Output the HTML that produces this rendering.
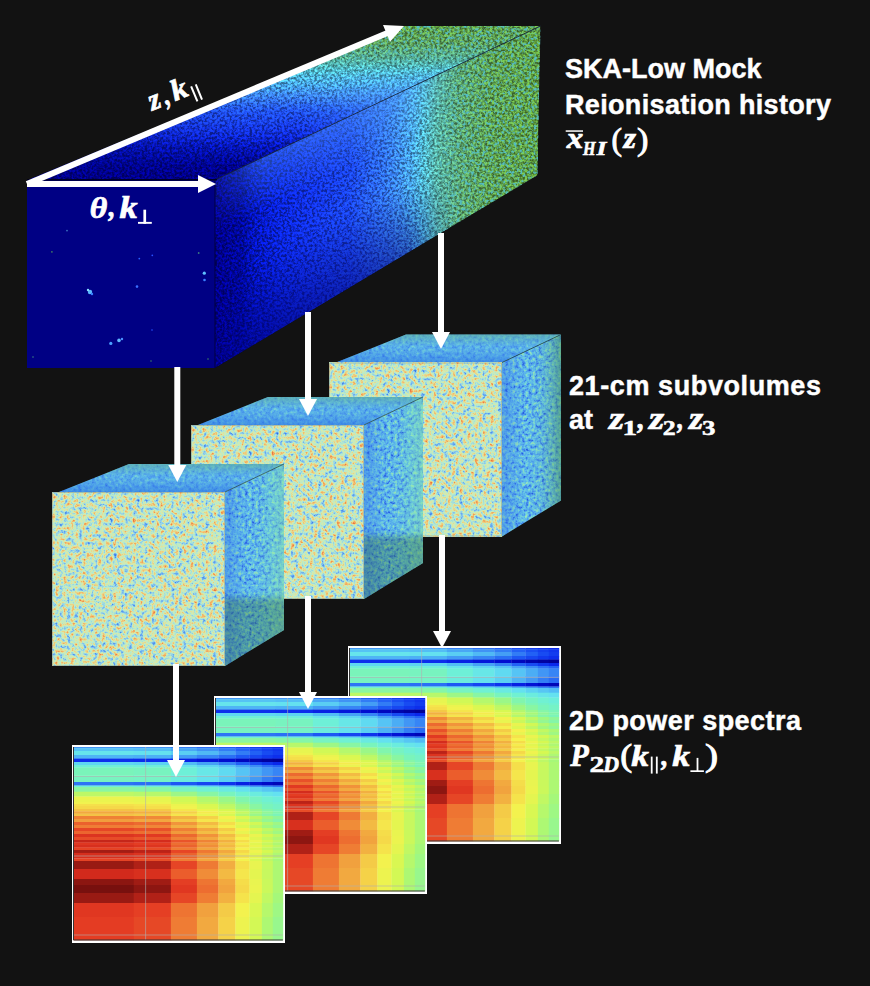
<!DOCTYPE html>
<html><head><meta charset="utf-8"><title>SKA-Low mock</title>
<style>
html,body{margin:0;padding:0;background:#121212;}
body{width:870px;height:986px;overflow:hidden;position:relative;font-family:"Liberation Sans",sans-serif;}
svg{position:absolute;left:0;top:0;}
.lbl{position:absolute;color:#fff;font-family:"Liberation Sans",sans-serif;font-weight:bold;font-size:24px;line-height:36px;white-space:nowrap;}
.m{font-family:"Liberation Serif",serif;font-weight:bold;font-style:italic;}
.mt{font-family:"Liberation Serif",serif;font-weight:bold;font-style:italic;fill:#fff;stroke:#fff;stroke-width:0.7px;}
.mtb{font-family:"Liberation Serif",serif;font-weight:bold;fill:#fff;stroke:#fff;stroke-width:0.5px;}
.mtr{font-family:"Liberation Serif",serif;fill:#fff;stroke:#fff;stroke-width:0.9px;}
.st{font-family:"Liberation Sans",sans-serif;font-weight:bold;fill:#fff;stroke:#fff;stroke-width:0.45px;}
</style></head><body>
<svg width="870" height="986" viewBox="0 0 870 986">
<defs>
<linearGradient id="boxR" gradientUnits="userSpaceOnUse" x1="215" y1="0" x2="538" y2="0">
 <stop offset="0" stop-color="#00008a"/>
 <stop offset="0.08" stop-color="#00089a"/>
 <stop offset="0.12" stop-color="#0414b8"/>
 <stop offset="0.2" stop-color="#0a24d8"/>
 <stop offset="0.3" stop-color="#1232e4"/>
 <stop offset="0.42" stop-color="#1a44ec"/>
 <stop offset="0.52" stop-color="#2e6cf0"/>
 <stop offset="0.57" stop-color="#3c88ee"/>
 <stop offset="0.61" stop-color="#48a4e8"/>
 <stop offset="0.645" stop-color="#50b4d0"/>
 <stop offset="0.69" stop-color="#58ae9c"/>
 <stop offset="0.76" stop-color="#5aa064"/>
 <stop offset="0.85" stop-color="#5c9a44"/>
 <stop offset="1" stop-color="#5e9a3a"/>
</linearGradient>
<linearGradient id="boxRv" gradientUnits="userSpaceOnUse" x1="300" y1="140" x2="369" y2="285">
 <stop offset="0" stop-color="#60b0ff" stop-opacity="0.35"/>
 <stop offset="0.3" stop-color="#60b0ff" stop-opacity="0"/>
 <stop offset="0.55" stop-color="#000080" stop-opacity="0"/>
 <stop offset="1" stop-color="#000080" stop-opacity="0.6"/>
</linearGradient>
<linearGradient id="boxRm" gradientUnits="userSpaceOnUse" x1="215" y1="0" x2="538" y2="0">
 <stop offset="0" stop-color="#fff" stop-opacity="0.3"/>
 <stop offset="0.15" stop-color="#fff" stop-opacity="1"/>
 <stop offset="0.6" stop-color="#fff" stop-opacity="1"/>
 <stop offset="0.75" stop-color="#fff" stop-opacity="0"/>
</linearGradient>
<mask id="maskR" maskUnits="userSpaceOnUse" x="0" y="0" width="870" height="986"><rect x="0" y="0" width="870" height="986" fill="url(#boxRm)"/></mask>
<linearGradient id="boxTh" gradientUnits="userSpaceOnUse" x1="120" y1="0" x2="420" y2="0">
 <stop offset="0" stop-color="#000080" stop-opacity="0.2"/>
 <stop offset="0.4" stop-color="#000080" stop-opacity="0"/>
 <stop offset="0.6" stop-color="#60b8ff" stop-opacity="0"/>
 <stop offset="1" stop-color="#60b8ff" stop-opacity="0.4"/>
</linearGradient>
<linearGradient id="boxThm" gradientUnits="userSpaceOnUse" x1="0" y1="181" x2="0" y2="26">
 <stop offset="0" stop-color="#fff" stop-opacity="0.2"/>
 <stop offset="0.15" stop-color="#fff" stop-opacity="1"/>
 <stop offset="0.55" stop-color="#fff" stop-opacity="1"/>
 <stop offset="0.75" stop-color="#fff" stop-opacity="0"/>
</linearGradient>
<mask id="maskT" maskUnits="userSpaceOnUse" x="0" y="0" width="870" height="986"><rect x="0" y="0" width="870" height="986" fill="url(#boxThm)"/></mask>
<linearGradient id="boxT" gradientUnits="userSpaceOnUse" x1="0" y1="181" x2="0" y2="26">
 <stop offset="0" stop-color="#000084"/>
 <stop offset="0.1" stop-color="#00048e"/>
 <stop offset="0.22" stop-color="#0616b4"/>
 <stop offset="0.33" stop-color="#1434e0"/>
 <stop offset="0.45" stop-color="#2050f0"/>
 <stop offset="0.55" stop-color="#3a80f0"/>
 <stop offset="0.63" stop-color="#48a8e8"/>
 <stop offset="0.72" stop-color="#50b8c8"/>
 <stop offset="0.8" stop-color="#56a684"/>
 <stop offset="0.88" stop-color="#5a9a54"/>
 <stop offset="1" stop-color="#5e9a3c"/>
</linearGradient>
<linearGradient id="ctop" x1="0" y1="1" x2="0" y2="0">
 <stop offset="0" stop-color="#2a70e0" stop-opacity="0.55"/>
 <stop offset="0.25" stop-color="#2a70e0" stop-opacity="0.2"/>
 <stop offset="0.55" stop-color="#60b0b0" stop-opacity="0"/>
 <stop offset="1" stop-color="#60b090" stop-opacity="0.55"/>
</linearGradient>

<linearGradient id="cright0" x1="0" y1="0" x2="1" y2="0">
 <stop offset="0" stop-color="#3a7ae6" stop-opacity="0.45"/>
 <stop offset="0.4" stop-color="#3a7ae6" stop-opacity="0.0"/>
 <stop offset="0.7" stop-color="#7ee0b8" stop-opacity="0.2"/>
 <stop offset="1" stop-color="#84dcb0" stop-opacity="0.55"/>
</linearGradient>
<linearGradient id="cright1" x1="0" y1="0" x2="1" y2="0">
 <stop offset="0" stop-color="#3a7ae6" stop-opacity="0.45"/>
 <stop offset="0.4" stop-color="#3a7ae6" stop-opacity="0.0"/>
 <stop offset="0.7" stop-color="#7ee0b8" stop-opacity="0.2"/>
 <stop offset="1" stop-color="#84dcb0" stop-opacity="0.55"/>
</linearGradient>
<linearGradient id="cright2" x1="0" y1="0" x2="1" y2="0">
 <stop offset="0" stop-color="#3a7ae6" stop-opacity="0.45"/>
 <stop offset="0.4" stop-color="#3a7ae6" stop-opacity="0.0"/>
 <stop offset="0.7" stop-color="#58a080" stop-opacity="0.15"/>
 <stop offset="1" stop-color="#4a9060" stop-opacity="0.6"/>
</linearGradient>
<filter id="cubeNoise" x="0" y="0" width="100%" height="100%" color-interpolation-filters="sRGB">
 <feTurbulence type="fractalNoise" baseFrequency="0.26" numOctaves="3" seed="3" result="n"/>
 <feColorMatrix in="n" type="matrix" values="1.1 0 0 0 0.0  1.1 0 0 0 0.0  1.1 0 0 0 0.0  0 0 0 0 1" result="g"/>
 <feComponentTransfer in="g">
  <feFuncR type="table" tableValues="0.157 0.235 0.392 0.569 0.714 0.843 0.941 0.949 0.910"/>
  <feFuncG type="table" tableValues="0.373 0.490 0.647 0.816 0.918 0.918 0.804 0.627 0.431"/>
  <feFuncB type="table" tableValues="0.882 0.918 0.941 0.922 0.804 0.675 0.490 0.345 0.235"/>
 </feComponentTransfer>
</filter>
<filter id="texMul" x="0" y="0" width="100%" height="100%" color-interpolation-filters="sRGB">
 <feTurbulence type="fractalNoise" baseFrequency="0.4" numOctaves="3" seed="5" result="n"/>
 <feColorMatrix in="n" type="matrix" values="2.6 0 0 0 -0.8  2.6 0 0 0 -0.8  2.6 0 0 0 -0.8  0 0 0 0 1" result="g"/>
 <feComposite in="SourceGraphic" in2="g" operator="arithmetic" k1="0.7" k2="0.65" k3="0" k4="0" result="m"/>
 <feComposite in="m" in2="SourceGraphic" operator="in"/>
</filter>
<filter id="texMul2" x="0" y="0" width="100%" height="100%" color-interpolation-filters="sRGB">
 <feTurbulence type="fractalNoise" baseFrequency="0.4" numOctaves="3" seed="11" result="n"/>
 <feColorMatrix in="n" type="matrix" values="2.2 0 0 0 -0.6  2.2 0 0 0 -0.6  2.2 0 0 0 -0.6  0 0 0 0 1" result="g"/>
 <feComposite in="SourceGraphic" in2="g" operator="arithmetic" k1="0.4" k2="0.82" k3="0" k4="0" result="m"/>
 <feComposite in="m" in2="SourceGraphic" operator="in"/>
</filter>
<filter id="speck" x="-5%" y="-5%" width="110%" height="110%"><feGaussianBlur stdDeviation="0.5"/></filter>
<filter id="cyanSpots" x="0" y="0" width="100%" height="100%" color-interpolation-filters="sRGB">
 <feTurbulence type="fractalNoise" baseFrequency="0.35" numOctaves="2" seed="21" result="n"/>
 <feColorMatrix in="n" type="matrix" values="0 0 0 0 0.33  0 0 0 0 0.74  0 0 0 0 0.76  4 0 0 0 -1.9" result="c"/>
 <feComposite in="c" in2="SourceGraphic" operator="in"/>
</filter>
<linearGradient id="greenMaskR" gradientUnits="userSpaceOnUse" x1="215" y1="0" x2="538" y2="0">
 <stop offset="0.62" stop-color="#fff" stop-opacity="0"/>
 <stop offset="0.72" stop-color="#fff" stop-opacity="1"/>
 <stop offset="1" stop-color="#fff" stop-opacity="1"/>
</linearGradient>
<mask id="gmR" maskUnits="userSpaceOnUse" x="0" y="0" width="870" height="986"><rect x="0" y="0" width="870" height="986" fill="url(#greenMaskR)"/></mask>
<linearGradient id="greenMaskT" gradientUnits="userSpaceOnUse" x1="0" y1="181" x2="0" y2="26">
 <stop offset="0.66" stop-color="#fff" stop-opacity="0"/>
 <stop offset="0.78" stop-color="#fff" stop-opacity="1"/>
 <stop offset="1" stop-color="#fff" stop-opacity="1"/>
</linearGradient>
<mask id="gmT" maskUnits="userSpaceOnUse" x="0" y="0" width="870" height="986"><rect x="0" y="0" width="870" height="986" fill="url(#greenMaskT)"/></mask>
<filter id="sideNoise" x="0" y="0" width="100%" height="100%" color-interpolation-filters="sRGB">
 <feTurbulence type="fractalNoise" baseFrequency="0.3" numOctaves="3" seed="17" result="n"/>
 <feColorMatrix in="n" type="matrix" values="1.5 0 0 0 -0.2  1.5 0 0 0 -0.2  1.5 0 0 0 -0.2  0 0 0 0 1" result="g"/>
 <feComponentTransfer in="g" result="c">
  <feFuncR type="table" tableValues="0.118 0.176 0.255 0.314 0.353 0.392 0.451 0.529 0.627"/>
  <feFuncG type="table" tableValues="0.314 0.412 0.529 0.627 0.698 0.765 0.824 0.871 0.902"/>
  <feFuncB type="table" tableValues="0.863 0.894 0.922 0.933 0.925 0.910 0.871 0.784 0.706"/>
 </feComponentTransfer>
 <feComposite in="c" in2="SourceGraphic" operator="in"/>
</filter>
<filter id="topNoise" x="0" y="0" width="100%" height="100%" color-interpolation-filters="sRGB">
 <feTurbulence type="fractalNoise" baseFrequency="0.3" numOctaves="3" seed="29" result="n"/>
 <feColorMatrix in="n" type="matrix" values="1.1 0 0 0 -0.05  1.1 0 0 0 -0.05  1.1 0 0 0 -0.05  0 0 0 0 1" result="g"/>
 <feComponentTransfer in="g" result="c">
  <feFuncR type="table" tableValues="0.157 0.216 0.275 0.314 0.345 0.376 0.431 0.510 0.588"/>
  <feFuncG type="table" tableValues="0.392 0.490 0.569 0.635 0.686 0.737 0.792 0.843 0.882"/>
  <feFuncB type="table" tableValues="0.882 0.910 0.925 0.933 0.925 0.910 0.878 0.804 0.725"/>
 </feComponentTransfer>
 <feComposite in="c" in2="SourceGraphic" operator="in"/>
</filter>
<filter id="soft" x="-20%" y="-20%" width="140%" height="140%"><feGaussianBlur stdDeviation="3"/></filter>
<filter id="noiseDark" x="0" y="0" width="100%" height="100%" color-interpolation-filters="sRGB">
 <feTurbulence type="fractalNoise" baseFrequency="0.3" numOctaves="2" seed="7" result="n"/>
 <feColorMatrix in="n" type="matrix" values="0 0 0 0 0  0 0 0 0 0  0 0 0 0 0  1.6 0 0 0 -0.55" result="a"/>
 <feComposite in="a" in2="SourceGraphic" operator="in"/>
</filter>
</defs>

<polygon points="215,180 540.5,26 537.5,175.3 215,368" fill="url(#boxR)" filter="url(#texMul)"/>
<polygon points="215,180 540.5,26 537.5,175.3 215,368" fill="url(#boxRv)" mask="url(#maskR)"/>
<polygon points="27,180 215,180 540.5,26 402,26" fill="url(#boxT)" filter="url(#texMul)"/>
<polygon points="27,180 215,180 540.5,26 402,26" fill="url(#boxTh)" mask="url(#maskT)"/>
<g mask="url(#gmR)"><polygon points="215,180 540.5,26 537.5,175.3 215,368" fill="#fff" filter="url(#cyanSpots)"/></g>
<g mask="url(#gmT)"><polygon points="27,180 215,180 540.5,26 402,26" fill="#fff" filter="url(#cyanSpots)"/></g>
<rect x="27" y="180" width="188" height="188" fill="#000084"/>
<g filter="url(#speck)"><circle cx="90" cy="292" r="2.2" fill="#5ab8ff"/><circle cx="88" cy="290" r="1.2" fill="#8ae0ff"/><circle cx="92" cy="294" r="1.2" fill="#3a80ff"/><circle cx="137" cy="286.6" r="1.3" fill="#3a70ff"/><circle cx="204.3" cy="273.2" r="1.6" fill="#60c0ff"/><circle cx="204.5" cy="280" r="1.3" fill="#3a80ff"/><circle cx="119" cy="340.4" r="1.8" fill="#60b8ff"/><circle cx="122" cy="339" r="1.2" fill="#4a90ff"/><circle cx="110.8" cy="343.4" r="1.6" fill="#4aa0ff"/><circle cx="67" cy="230.6" r="0.9" fill="#3a70c0"/><circle cx="198.7" cy="253" r="0.9" fill="#3a7a80"/><circle cx="152.3" cy="255.3" r="0.9" fill="#2a50ff"/><circle cx="51.9" cy="251.9" r="0.8" fill="#4a8a60"/><circle cx="139.3" cy="258.6" r="0.9" fill="#2a60ff"/><circle cx="152" cy="330" r="0.8" fill="#2a50ff"/><circle cx="33" cy="357" r="0.8" fill="#3a8080"/><circle cx="151" cy="361" r="0.8" fill="#3a8060"/><circle cx="208" cy="359" r="0.8" fill="#3a8060"/></g>
<line x1="215" y1="180" x2="540.5" y2="26" stroke="#1a2a40" stroke-width="1" opacity="0.8"/>
<rect x="27" y="179" width="190" height="1.6" fill="#000018" opacity="0.85"/>
<line x1="215" y1="180" x2="215" y2="368" stroke="#000040" stroke-width="1"/>
<g transform="translate(329,362.5)">
<polygon points="7,0 173,0 232,-28 77,-28" fill="#fff" filter="url(#topNoise)"/>
<polygon points="7,0 173,0 232,-28 77,-28" fill="url(#ctop)"/>
<polygon points="173,0 232,-28 232,138 173,174" fill="#fff" filter="url(#sideNoise)"/>
<polygon points="173,0 232,-28 232,138 173,174" fill="url(#cright2)"/>
<rect x="0" y="0" width="173" height="174" fill="#b8d4ac"/>
<rect x="0" y="0" width="173" height="174" filter="url(#cubeNoise)"/>
<rect x="0.5" y="0.5" width="172" height="173" fill="none" stroke="#8a9890" stroke-width="1" opacity="0.5"/>
<line x1="173" y1="0" x2="232" y2="-28" stroke="#204040" stroke-width="1" opacity="0.7"/>
</g>
<g transform="translate(191,425)">
<polygon points="7,0 173,0 232,-28 77,-28" fill="#fff" filter="url(#topNoise)"/>
<polygon points="7,0 173,0 232,-28 77,-28" fill="url(#ctop)"/>
<polygon points="173,0 232,-28 232,138 173,174" fill="#fff" filter="url(#sideNoise)"/>
<polygon points="173,0 232,-28 232,138 173,174" fill="url(#cright1)"/>
<clipPath id="rc1"><polygon points="173,0 232,-28 232,138 173,174"/></clipPath>
<g clip-path="url(#rc1)"><rect x="170" y="111" width="66" height="67" fill="#2a5a20" opacity="0.32" filter="url(#soft)"/></g>
<rect x="0" y="0" width="173" height="174" fill="#b8d4ac"/>
<rect x="0" y="0" width="173" height="174" filter="url(#cubeNoise)"/>
<rect x="0.5" y="0.5" width="172" height="173" fill="none" stroke="#8a9890" stroke-width="1" opacity="0.5"/>
<line x1="173" y1="0" x2="232" y2="-28" stroke="#204040" stroke-width="1" opacity="0.7"/>
</g>
<g transform="translate(52,492)">
<polygon points="7,0 173,0 232,-28 77,-28" fill="#fff" filter="url(#topNoise)"/>
<polygon points="7,0 173,0 232,-28 77,-28" fill="url(#ctop)"/>
<polygon points="173,0 232,-28 232,138 173,174" fill="#fff" filter="url(#sideNoise)"/>
<polygon points="173,0 232,-28 232,138 173,174" fill="url(#cright0)"/>
<clipPath id="rc0"><polygon points="173,0 232,-28 232,138 173,174"/></clipPath>
<g clip-path="url(#rc0)"><rect x="170" y="106" width="66" height="72" fill="#2a5a20" opacity="0.32" filter="url(#soft)"/></g>
<rect x="0" y="0" width="173" height="174" fill="#b8d4ac"/>
<rect x="0" y="0" width="173" height="174" filter="url(#cubeNoise)"/>
<rect x="0.5" y="0.5" width="172" height="173" fill="none" stroke="#8a9890" stroke-width="1" opacity="0.5"/>
<line x1="173" y1="0" x2="232" y2="-28" stroke="#204040" stroke-width="1" opacity="0.7"/>
</g>
<rect x="348" y="646" width="213" height="198" fill="#fff"/>
<g transform="translate(349.5,648)">
<rect x="0.0" y="0.0" width="60.5" height="1.5" fill="#4196f5"/>
<rect x="60.2" y="0.0" width="37.5" height="1.5" fill="#3f92f5"/>
<rect x="97.4" y="0.0" width="26.3" height="1.5" fill="#337ef5"/>
<rect x="123.4" y="0.0" width="21.8" height="1.5" fill="#286cf5"/>
<rect x="144.9" y="0.0" width="17.3" height="1.5" fill="#1e5af5"/>
<rect x="161.9" y="0.0" width="14.4" height="1.5" fill="#1749f2"/>
<rect x="176.0" y="0.0" width="12.7" height="1.5" fill="#123cef"/>
<rect x="188.4" y="0.0" width="11.2" height="1.5" fill="#0d30ed"/>
<rect x="199.3" y="0.0" width="10.4" height="1.5" fill="#0a28eb"/>
<rect x="0.0" y="1.2" width="60.5" height="3.1" fill="#55c3f5"/>
<rect x="60.2" y="1.2" width="37.5" height="3.1" fill="#53bef5"/>
<rect x="97.4" y="1.2" width="26.3" height="3.1" fill="#49a8f5"/>
<rect x="123.4" y="1.2" width="21.8" height="3.1" fill="#4093f5"/>
<rect x="144.9" y="1.2" width="17.3" height="3.1" fill="#327cf5"/>
<rect x="161.9" y="1.2" width="14.4" height="3.1" fill="#2362f5"/>
<rect x="176.0" y="1.2" width="12.7" height="3.1" fill="#1a50f3"/>
<rect x="188.4" y="1.2" width="11.2" height="3.1" fill="#1441f0"/>
<rect x="199.3" y="1.2" width="10.4" height="3.1" fill="#1036ee"/>
<rect x="0.0" y="4.0" width="60.5" height="4.3" fill="#66e4ec"/>
<rect x="60.2" y="4.0" width="37.5" height="4.3" fill="#64e1ef"/>
<rect x="97.4" y="4.0" width="26.3" height="4.3" fill="#5acef3"/>
<rect x="123.4" y="4.0" width="21.8" height="4.3" fill="#50b9f5"/>
<rect x="144.9" y="4.0" width="17.3" height="4.3" fill="#449ef5"/>
<rect x="161.9" y="4.0" width="14.4" height="4.3" fill="#327cf5"/>
<rect x="176.0" y="4.0" width="12.7" height="4.3" fill="#2261f5"/>
<rect x="188.4" y="4.0" width="11.2" height="4.3" fill="#184bf2"/>
<rect x="199.3" y="4.0" width="10.4" height="4.3" fill="#133def"/>
<rect x="0.0" y="8.0" width="60.5" height="3.9" fill="#4eb4f5"/>
<rect x="60.2" y="8.0" width="37.5" height="3.9" fill="#4cb0f5"/>
<rect x="97.4" y="8.0" width="26.3" height="3.9" fill="#439bf5"/>
<rect x="123.4" y="8.0" width="21.8" height="3.9" fill="#3785f5"/>
<rect x="144.9" y="8.0" width="17.3" height="3.9" fill="#2a6ff5"/>
<rect x="161.9" y="8.0" width="14.4" height="3.9" fill="#1d57f4"/>
<rect x="176.0" y="8.0" width="12.7" height="3.9" fill="#1747f1"/>
<rect x="188.4" y="8.0" width="11.2" height="3.9" fill="#1139ee"/>
<rect x="199.3" y="8.0" width="10.4" height="3.9" fill="#0d2fec"/>
<rect x="0.0" y="11.6" width="60.5" height="3.7" fill="#0d2fec"/>
<rect x="60.2" y="11.6" width="37.5" height="3.7" fill="#0c2cec"/>
<rect x="97.4" y="11.6" width="26.3" height="3.7" fill="#0821e4"/>
<rect x="123.4" y="11.6" width="21.8" height="3.7" fill="#0417da"/>
<rect x="144.9" y="11.6" width="17.3" height="3.7" fill="#010dd0"/>
<rect x="161.9" y="11.6" width="14.4" height="3.7" fill="#0007be"/>
<rect x="176.0" y="11.6" width="12.7" height="3.7" fill="#0004ae"/>
<rect x="188.4" y="11.6" width="11.2" height="3.7" fill="#0002a0"/>
<rect x="199.3" y="11.6" width="10.4" height="3.7" fill="#000096"/>
<rect x="0.0" y="15.0" width="60.5" height="3.3" fill="#5fd7f2"/>
<rect x="60.2" y="15.0" width="37.5" height="3.3" fill="#5dd3f2"/>
<rect x="97.4" y="15.0" width="26.3" height="3.3" fill="#52bdf5"/>
<rect x="123.4" y="15.0" width="21.8" height="3.3" fill="#46a2f5"/>
<rect x="144.9" y="15.0" width="17.3" height="3.3" fill="#3785f5"/>
<rect x="161.9" y="15.0" width="14.4" height="3.3" fill="#2362f5"/>
<rect x="176.0" y="15.0" width="12.7" height="3.3" fill="#184af2"/>
<rect x="188.4" y="15.0" width="11.2" height="3.3" fill="#0f36ee"/>
<rect x="199.3" y="15.0" width="10.4" height="3.3" fill="#0a28eb"/>
<rect x="0.0" y="18.0" width="60.5" height="2.8" fill="#6ef0d7"/>
<rect x="60.2" y="18.0" width="37.5" height="2.8" fill="#6deeda"/>
<rect x="97.4" y="18.0" width="26.3" height="2.8" fill="#66e4eb"/>
<rect x="123.4" y="18.0" width="21.8" height="2.8" fill="#5ed5f2"/>
<rect x="144.9" y="18.0" width="17.3" height="2.8" fill="#55c3f5"/>
<rect x="161.9" y="18.0" width="14.4" height="2.8" fill="#47a4f5"/>
<rect x="176.0" y="18.0" width="12.7" height="2.8" fill="#3b8cf5"/>
<rect x="188.4" y="18.0" width="11.2" height="2.8" fill="#2d73f5"/>
<rect x="199.3" y="18.0" width="10.4" height="2.8" fill="#2363f5"/>
<rect x="0.0" y="20.5" width="60.5" height="8.3" fill="#7af4ba"/>
<rect x="60.2" y="20.5" width="37.5" height="8.3" fill="#78f3bf"/>
<rect x="97.4" y="20.5" width="26.3" height="8.3" fill="#6ef0d7"/>
<rect x="123.4" y="20.5" width="21.8" height="8.3" fill="#68e7e7"/>
<rect x="144.9" y="20.5" width="17.3" height="8.3" fill="#60daf1"/>
<rect x="161.9" y="20.5" width="14.4" height="8.3" fill="#56c4f5"/>
<rect x="176.0" y="20.5" width="12.7" height="8.3" fill="#4badf5"/>
<rect x="188.4" y="20.5" width="11.2" height="8.3" fill="#4196f5"/>
<rect x="199.3" y="20.5" width="10.4" height="8.3" fill="#3785f5"/>
<rect x="0.0" y="28.5" width="60.5" height="6.8" fill="#78f3c0"/>
<rect x="60.2" y="28.5" width="37.5" height="6.8" fill="#76f3c5"/>
<rect x="97.4" y="28.5" width="26.3" height="6.8" fill="#6cecdd"/>
<rect x="123.4" y="28.5" width="21.8" height="6.8" fill="#65e2ee"/>
<rect x="144.9" y="28.5" width="17.3" height="6.8" fill="#5bd0f3"/>
<rect x="161.9" y="28.5" width="14.4" height="6.8" fill="#4eb3f5"/>
<rect x="176.0" y="28.5" width="12.7" height="6.8" fill="#4299f5"/>
<rect x="188.4" y="28.5" width="11.2" height="6.8" fill="#337ef5"/>
<rect x="199.3" y="28.5" width="10.4" height="6.8" fill="#286bf5"/>
<rect x="0.0" y="35.0" width="60.5" height="3.8" fill="#2d74f5"/>
<rect x="60.2" y="35.0" width="37.5" height="3.8" fill="#2a6ff5"/>
<rect x="97.4" y="35.0" width="26.3" height="3.8" fill="#1d57f4"/>
<rect x="123.4" y="35.0" width="21.8" height="3.8" fill="#1645f1"/>
<rect x="144.9" y="35.0" width="17.3" height="3.8" fill="#0e33ed"/>
<rect x="161.9" y="35.0" width="14.4" height="3.8" fill="#0720e3"/>
<rect x="176.0" y="35.0" width="12.7" height="3.8" fill="#0312d5"/>
<rect x="188.4" y="35.0" width="11.2" height="3.8" fill="#0009c6"/>
<rect x="199.3" y="35.0" width="10.4" height="3.8" fill="#0006b7"/>
<rect x="0.0" y="38.5" width="60.5" height="1.8" fill="#6ef0d7"/>
<rect x="60.2" y="38.5" width="37.5" height="1.8" fill="#6deeda"/>
<rect x="97.4" y="38.5" width="26.3" height="1.8" fill="#67e5e9"/>
<rect x="123.4" y="38.5" width="21.8" height="1.8" fill="#60d8f1"/>
<rect x="144.9" y="38.5" width="17.3" height="1.8" fill="#58c8f4"/>
<rect x="161.9" y="38.5" width="14.4" height="1.8" fill="#4caef5"/>
<rect x="176.0" y="38.5" width="12.7" height="1.8" fill="#4299f5"/>
<rect x="188.4" y="38.5" width="11.2" height="1.8" fill="#3683f5"/>
<rect x="199.3" y="38.5" width="10.4" height="1.8" fill="#2d74f5"/>
<rect x="0.0" y="40.0" width="60.5" height="5.0" fill="#8af6a1"/>
<rect x="60.2" y="40.0" width="37.5" height="5.0" fill="#85f6a8"/>
<rect x="97.4" y="40.0" width="26.3" height="5.0" fill="#78f3c1"/>
<rect x="123.4" y="40.0" width="21.8" height="5.0" fill="#70f1d3"/>
<rect x="144.9" y="40.0" width="17.3" height="5.0" fill="#6aeae1"/>
<rect x="161.9" y="40.0" width="14.4" height="5.0" fill="#64e1f0"/>
<rect x="176.0" y="40.0" width="12.7" height="5.0" fill="#5dd3f2"/>
<rect x="188.4" y="40.0" width="11.2" height="5.0" fill="#57c6f4"/>
<rect x="199.3" y="40.0" width="10.4" height="5.0" fill="#52bcf5"/>
<rect x="0.0" y="44.7" width="60.5" height="5.1" fill="#bdf866"/>
<rect x="60.2" y="44.7" width="37.5" height="5.1" fill="#b7f86b"/>
<rect x="97.4" y="44.7" width="26.3" height="5.1" fill="#9df786"/>
<rect x="123.4" y="44.7" width="21.8" height="5.1" fill="#88f6a4"/>
<rect x="144.9" y="44.7" width="17.3" height="5.1" fill="#79f4bd"/>
<rect x="161.9" y="44.7" width="14.4" height="5.1" fill="#70f1d2"/>
<rect x="176.0" y="44.7" width="12.7" height="5.1" fill="#6becde"/>
<rect x="188.4" y="44.7" width="11.2" height="5.1" fill="#67e5e9"/>
<rect x="199.3" y="44.7" width="10.4" height="5.1" fill="#64e1f0"/>
<rect x="0.0" y="49.5" width="60.5" height="5.8" fill="#ebf44f"/>
<rect x="60.2" y="49.5" width="37.5" height="5.8" fill="#e7f550"/>
<rect x="97.4" y="49.5" width="26.3" height="5.8" fill="#d1f856"/>
<rect x="123.4" y="49.5" width="21.8" height="5.8" fill="#b5f86d"/>
<rect x="144.9" y="49.5" width="17.3" height="5.8" fill="#9bf788"/>
<rect x="161.9" y="49.5" width="14.4" height="5.8" fill="#81f5ae"/>
<rect x="176.0" y="49.5" width="12.7" height="5.8" fill="#77f3c2"/>
<rect x="188.4" y="49.5" width="11.2" height="5.8" fill="#70f1d2"/>
<rect x="199.3" y="49.5" width="10.4" height="5.8" fill="#6ceedb"/>
<rect x="0.0" y="55.0" width="60.5" height="2.3" fill="#f1f34f"/>
<rect x="60.2" y="55.0" width="37.5" height="2.3" fill="#edf44f"/>
<rect x="97.4" y="55.0" width="26.3" height="2.3" fill="#daf751"/>
<rect x="123.4" y="55.0" width="21.8" height="2.3" fill="#c1f863"/>
<rect x="144.9" y="55.0" width="17.3" height="2.3" fill="#a6f879"/>
<rect x="161.9" y="55.0" width="14.4" height="2.3" fill="#8df69d"/>
<rect x="176.0" y="55.0" width="12.7" height="2.3" fill="#7cf5b7"/>
<rect x="188.4" y="55.0" width="11.2" height="2.3" fill="#75f2c6"/>
<rect x="199.3" y="55.0" width="10.4" height="2.3" fill="#71f1d1"/>
<rect x="0.0" y="57.0" width="60.5" height="2.3" fill="#f5e04b"/>
<rect x="60.2" y="57.0" width="37.5" height="2.3" fill="#f5e54c"/>
<rect x="97.4" y="57.0" width="26.3" height="2.3" fill="#ebf44f"/>
<rect x="123.4" y="57.0" width="21.8" height="2.3" fill="#d8f852"/>
<rect x="144.9" y="57.0" width="17.3" height="2.3" fill="#bcf867"/>
<rect x="161.9" y="57.0" width="14.4" height="2.3" fill="#9df786"/>
<rect x="176.0" y="57.0" width="12.7" height="2.3" fill="#88f6a4"/>
<rect x="188.4" y="57.0" width="11.2" height="2.3" fill="#7af4bb"/>
<rect x="199.3" y="57.0" width="10.4" height="2.3" fill="#75f2c6"/>
<rect x="0.0" y="59.0" width="60.5" height="3.3" fill="#f5d849"/>
<rect x="60.2" y="59.0" width="37.5" height="3.3" fill="#f5de4a"/>
<rect x="97.4" y="59.0" width="26.3" height="3.3" fill="#f0f34f"/>
<rect x="123.4" y="59.0" width="21.8" height="3.3" fill="#dcf751"/>
<rect x="144.9" y="59.0" width="17.3" height="3.3" fill="#c2f863"/>
<rect x="161.9" y="59.0" width="14.4" height="3.3" fill="#a0f881"/>
<rect x="176.0" y="59.0" width="12.7" height="3.3" fill="#8af6a1"/>
<rect x="188.4" y="59.0" width="11.2" height="3.3" fill="#7af4ba"/>
<rect x="199.3" y="59.0" width="10.4" height="3.3" fill="#76f2c6"/>
<rect x="0.0" y="62.0" width="60.5" height="2.6" fill="#f4c345"/>
<rect x="60.2" y="62.0" width="37.5" height="2.6" fill="#f4c946"/>
<rect x="97.4" y="62.0" width="26.3" height="2.6" fill="#f5e54c"/>
<rect x="123.4" y="62.0" width="21.8" height="2.6" fill="#ebf44f"/>
<rect x="144.9" y="62.0" width="17.3" height="2.6" fill="#d7f852"/>
<rect x="161.9" y="62.0" width="14.4" height="2.6" fill="#b3f86f"/>
<rect x="176.0" y="62.0" width="12.7" height="2.6" fill="#9af78a"/>
<rect x="188.4" y="62.0" width="11.2" height="2.6" fill="#85f6a9"/>
<rect x="199.3" y="62.0" width="10.4" height="2.6" fill="#7bf4b9"/>
<rect x="0.0" y="64.3" width="60.5" height="2.6" fill="#f2a93f"/>
<rect x="60.2" y="64.3" width="37.5" height="2.6" fill="#f2b041"/>
<rect x="97.4" y="64.3" width="26.3" height="2.6" fill="#f5d048"/>
<rect x="123.4" y="64.3" width="21.8" height="2.6" fill="#f5eb4d"/>
<rect x="144.9" y="64.3" width="17.3" height="2.6" fill="#e5f550"/>
<rect x="161.9" y="64.3" width="14.4" height="2.6" fill="#c7f85f"/>
<rect x="176.0" y="64.3" width="12.7" height="2.6" fill="#a9f877"/>
<rect x="188.4" y="64.3" width="11.2" height="2.6" fill="#92f796"/>
<rect x="199.3" y="64.3" width="10.4" height="2.6" fill="#83f5ab"/>
<rect x="0.0" y="66.7" width="60.5" height="2.6" fill="#f4c345"/>
<rect x="60.2" y="66.7" width="37.5" height="2.6" fill="#f4c946"/>
<rect x="97.4" y="66.7" width="26.3" height="2.6" fill="#f5e54c"/>
<rect x="123.4" y="66.7" width="21.8" height="2.6" fill="#ebf44f"/>
<rect x="144.9" y="66.7" width="17.3" height="2.6" fill="#d7f852"/>
<rect x="161.9" y="66.7" width="14.4" height="2.6" fill="#b3f86f"/>
<rect x="176.0" y="66.7" width="12.7" height="2.6" fill="#9af78a"/>
<rect x="188.4" y="66.7" width="11.2" height="2.6" fill="#85f6a9"/>
<rect x="199.3" y="66.7" width="10.4" height="2.6" fill="#7bf4b9"/>
<rect x="0.0" y="69.0" width="60.5" height="3.3" fill="#ef8135"/>
<rect x="60.2" y="69.0" width="37.5" height="3.3" fill="#f08938"/>
<rect x="97.4" y="69.0" width="26.3" height="3.3" fill="#f2b242"/>
<rect x="123.4" y="69.0" width="21.8" height="3.3" fill="#f5d248"/>
<rect x="144.9" y="69.0" width="17.3" height="3.3" fill="#f5f04e"/>
<rect x="161.9" y="69.0" width="14.4" height="3.3" fill="#dcf751"/>
<rect x="176.0" y="69.0" width="12.7" height="3.3" fill="#bef865"/>
<rect x="188.4" y="69.0" width="11.2" height="3.3" fill="#a1f880"/>
<rect x="199.3" y="69.0" width="10.4" height="3.3" fill="#90f698"/>
<rect x="0.0" y="72.0" width="60.5" height="3.3" fill="#f19d3d"/>
<rect x="60.2" y="72.0" width="37.5" height="3.3" fill="#f2a63f"/>
<rect x="97.4" y="72.0" width="26.3" height="3.3" fill="#f4c846"/>
<rect x="123.4" y="72.0" width="21.8" height="3.3" fill="#f5e54c"/>
<rect x="144.9" y="72.0" width="17.3" height="3.3" fill="#e9f450"/>
<rect x="161.9" y="72.0" width="14.4" height="3.3" fill="#cbf85b"/>
<rect x="176.0" y="72.0" width="12.7" height="3.3" fill="#adf874"/>
<rect x="188.4" y="72.0" width="11.2" height="3.3" fill="#94f793"/>
<rect x="199.3" y="72.0" width="10.4" height="3.3" fill="#84f6a9"/>
<rect x="0.0" y="75.0" width="60.5" height="3.3" fill="#eb612d"/>
<rect x="60.2" y="75.0" width="37.5" height="3.3" fill="#ec6a30"/>
<rect x="97.4" y="75.0" width="26.3" height="3.3" fill="#f1953b"/>
<rect x="123.4" y="75.0" width="21.8" height="3.3" fill="#f3bb43"/>
<rect x="144.9" y="75.0" width="17.3" height="3.3" fill="#f5dd4a"/>
<rect x="161.9" y="75.0" width="14.4" height="3.3" fill="#e9f44f"/>
<rect x="176.0" y="75.0" width="12.7" height="3.3" fill="#d2f855"/>
<rect x="188.4" y="75.0" width="11.2" height="3.3" fill="#b2f870"/>
<rect x="199.3" y="75.0" width="10.4" height="3.3" fill="#9ef785"/>
<rect x="0.0" y="78.0" width="60.5" height="3.3" fill="#ef7d35"/>
<rect x="60.2" y="78.0" width="37.5" height="3.3" fill="#f08637"/>
<rect x="97.4" y="78.0" width="26.3" height="3.3" fill="#f2af41"/>
<rect x="123.4" y="78.0" width="21.8" height="3.3" fill="#f5d048"/>
<rect x="144.9" y="78.0" width="17.3" height="3.3" fill="#f5ee4d"/>
<rect x="161.9" y="78.0" width="14.4" height="3.3" fill="#ddf751"/>
<rect x="176.0" y="78.0" width="12.7" height="3.3" fill="#c0f864"/>
<rect x="188.4" y="78.0" width="11.2" height="3.3" fill="#a2f87e"/>
<rect x="199.3" y="78.0" width="10.4" height="3.3" fill="#92f796"/>
<rect x="0.0" y="81.0" width="60.5" height="3.3" fill="#e64626"/>
<rect x="60.2" y="81.0" width="37.5" height="3.3" fill="#e85129"/>
<rect x="97.4" y="81.0" width="26.3" height="3.3" fill="#ef7f35"/>
<rect x="123.4" y="81.0" width="21.8" height="3.3" fill="#f2a83f"/>
<rect x="144.9" y="81.0" width="17.3" height="3.3" fill="#f4cc47"/>
<rect x="161.9" y="81.0" width="14.4" height="3.3" fill="#f5f14e"/>
<rect x="176.0" y="81.0" width="12.7" height="3.3" fill="#dff651"/>
<rect x="188.4" y="81.0" width="11.2" height="3.3" fill="#c2f862"/>
<rect x="199.3" y="81.0" width="10.4" height="3.3" fill="#acf874"/>
<rect x="0.0" y="84.0" width="60.5" height="3.3" fill="#ec652f"/>
<rect x="60.2" y="84.0" width="37.5" height="3.3" fill="#ed6e31"/>
<rect x="97.4" y="84.0" width="26.3" height="3.3" fill="#f1993b"/>
<rect x="123.4" y="84.0" width="21.8" height="3.3" fill="#f3bd44"/>
<rect x="144.9" y="84.0" width="17.3" height="3.3" fill="#f5de4a"/>
<rect x="161.9" y="84.0" width="14.4" height="3.3" fill="#e9f450"/>
<rect x="176.0" y="84.0" width="12.7" height="3.3" fill="#d2f855"/>
<rect x="188.4" y="84.0" width="11.2" height="3.3" fill="#b3f86f"/>
<rect x="199.3" y="84.0" width="10.4" height="3.3" fill="#9ff883"/>
<rect x="0.0" y="87.0" width="60.5" height="3.3" fill="#dc3420"/>
<rect x="60.2" y="87.0" width="37.5" height="3.3" fill="#e13922"/>
<rect x="97.4" y="87.0" width="26.3" height="3.3" fill="#ec682f"/>
<rect x="123.4" y="87.0" width="21.8" height="3.3" fill="#f1923a"/>
<rect x="144.9" y="87.0" width="17.3" height="3.3" fill="#f3bb43"/>
<rect x="161.9" y="87.0" width="14.4" height="3.3" fill="#f5e34b"/>
<rect x="176.0" y="87.0" width="12.7" height="3.3" fill="#eaf44f"/>
<rect x="188.4" y="87.0" width="11.2" height="3.3" fill="#d3f854"/>
<rect x="199.3" y="87.0" width="10.4" height="3.3" fill="#bdf867"/>
<rect x="0.0" y="90.0" width="60.5" height="3.3" fill="#e74c28"/>
<rect x="60.2" y="90.0" width="37.5" height="3.3" fill="#e9562a"/>
<rect x="97.4" y="90.0" width="26.3" height="3.3" fill="#ef8236"/>
<rect x="123.4" y="90.0" width="21.8" height="3.3" fill="#f2aa40"/>
<rect x="144.9" y="90.0" width="17.3" height="3.3" fill="#f5cd47"/>
<rect x="161.9" y="90.0" width="14.4" height="3.3" fill="#f5f24e"/>
<rect x="176.0" y="90.0" width="12.7" height="3.3" fill="#dff651"/>
<rect x="188.4" y="90.0" width="11.2" height="3.3" fill="#c4f861"/>
<rect x="199.3" y="90.0" width="10.4" height="3.3" fill="#aef873"/>
<rect x="0.0" y="93.0" width="60.5" height="2.8" fill="#c5261a"/>
<rect x="60.2" y="93.0" width="37.5" height="2.8" fill="#d42c1d"/>
<rect x="97.4" y="93.0" width="26.3" height="2.8" fill="#e9542a"/>
<rect x="123.4" y="93.0" width="21.8" height="2.8" fill="#ef8336"/>
<rect x="144.9" y="93.0" width="17.3" height="2.8" fill="#f2b041"/>
<rect x="161.9" y="93.0" width="14.4" height="2.8" fill="#f5dc4a"/>
<rect x="176.0" y="93.0" width="12.7" height="2.8" fill="#edf44f"/>
<rect x="188.4" y="93.0" width="11.2" height="2.8" fill="#d5f852"/>
<rect x="199.3" y="93.0" width="10.4" height="2.8" fill="#bdf867"/>
<rect x="0.0" y="95.5" width="60.5" height="2.8" fill="#df3721"/>
<rect x="60.2" y="95.5" width="37.5" height="2.8" fill="#e43d23"/>
<rect x="97.4" y="95.5" width="26.3" height="2.8" fill="#ed6f31"/>
<rect x="123.4" y="95.5" width="21.8" height="2.8" fill="#f19a3c"/>
<rect x="144.9" y="95.5" width="17.3" height="2.8" fill="#f4c345"/>
<rect x="161.9" y="95.5" width="14.4" height="2.8" fill="#f5ec4d"/>
<rect x="176.0" y="95.5" width="12.7" height="2.8" fill="#e2f650"/>
<rect x="188.4" y="95.5" width="11.2" height="2.8" fill="#c6f85f"/>
<rect x="199.3" y="95.5" width="10.4" height="2.8" fill="#aef873"/>
<rect x="0.0" y="98.0" width="60.5" height="2.8" fill="#d72f1e"/>
<rect x="60.2" y="98.0" width="37.5" height="2.8" fill="#dd3520"/>
<rect x="97.4" y="98.0" width="26.3" height="2.8" fill="#eb622e"/>
<rect x="123.4" y="98.0" width="21.8" height="2.8" fill="#f08d39"/>
<rect x="144.9" y="98.0" width="17.3" height="2.8" fill="#f3b743"/>
<rect x="161.9" y="98.0" width="14.4" height="2.8" fill="#f5e04b"/>
<rect x="176.0" y="98.0" width="12.7" height="2.8" fill="#ebf44f"/>
<rect x="188.4" y="98.0" width="11.2" height="2.8" fill="#d4f854"/>
<rect x="199.3" y="98.0" width="10.4" height="2.8" fill="#bdf867"/>
<rect x="0.0" y="100.5" width="60.5" height="2.8" fill="#e54325"/>
<rect x="60.2" y="100.5" width="37.5" height="2.8" fill="#e74d28"/>
<rect x="97.4" y="100.5" width="26.3" height="2.8" fill="#ef7c34"/>
<rect x="123.4" y="100.5" width="21.8" height="2.8" fill="#f1a53e"/>
<rect x="144.9" y="100.5" width="17.3" height="2.8" fill="#f4ca46"/>
<rect x="161.9" y="100.5" width="14.4" height="2.8" fill="#f5f04e"/>
<rect x="176.0" y="100.5" width="12.7" height="2.8" fill="#e0f651"/>
<rect x="188.4" y="100.5" width="11.2" height="2.8" fill="#c4f860"/>
<rect x="199.3" y="100.5" width="10.4" height="2.8" fill="#aef873"/>
<rect x="0.0" y="103.0" width="60.5" height="3.2" fill="#a31d15"/>
<rect x="60.2" y="103.0" width="37.5" height="3.2" fill="#bb2318"/>
<rect x="97.4" y="103.0" width="26.3" height="3.2" fill="#e64626"/>
<rect x="123.4" y="103.0" width="21.8" height="3.2" fill="#ee7833"/>
<rect x="144.9" y="103.0" width="17.3" height="3.2" fill="#f2a83f"/>
<rect x="161.9" y="103.0" width="14.4" height="3.2" fill="#f5d849"/>
<rect x="176.0" y="103.0" width="12.7" height="3.2" fill="#eff34f"/>
<rect x="188.4" y="103.0" width="11.2" height="3.2" fill="#d6f852"/>
<rect x="199.3" y="103.0" width="10.4" height="3.2" fill="#bdf867"/>
<rect x="0.0" y="105.9" width="60.5" height="3.2" fill="#d62e1d"/>
<rect x="60.2" y="105.9" width="37.5" height="3.2" fill="#dc3420"/>
<rect x="97.4" y="105.9" width="26.3" height="3.2" fill="#eb622e"/>
<rect x="123.4" y="105.9" width="21.8" height="3.2" fill="#f09039"/>
<rect x="144.9" y="105.9" width="17.3" height="3.2" fill="#f3bc44"/>
<rect x="161.9" y="105.9" width="14.4" height="3.2" fill="#f5e74c"/>
<rect x="176.0" y="105.9" width="12.7" height="3.2" fill="#e4f550"/>
<rect x="188.4" y="105.9" width="11.2" height="3.2" fill="#c7f85e"/>
<rect x="199.3" y="105.9" width="10.4" height="3.2" fill="#aef873"/>
<rect x="0.0" y="108.7" width="60.5" height="2.9" fill="#d72f1e"/>
<rect x="60.2" y="108.7" width="37.5" height="2.9" fill="#dd3520"/>
<rect x="97.4" y="108.7" width="26.3" height="2.9" fill="#ec642e"/>
<rect x="123.4" y="108.7" width="21.8" height="2.9" fill="#f09039"/>
<rect x="144.9" y="108.7" width="17.3" height="2.9" fill="#f3bb43"/>
<rect x="161.9" y="108.7" width="14.4" height="2.9" fill="#f5e54c"/>
<rect x="176.0" y="108.7" width="12.7" height="2.9" fill="#e7f550"/>
<rect x="188.4" y="108.7" width="11.2" height="2.9" fill="#cdf85a"/>
<rect x="199.3" y="108.7" width="10.4" height="2.9" fill="#b5f86d"/>
<rect x="0.0" y="111.4" width="60.5" height="2.9" fill="#e54325"/>
<rect x="60.2" y="111.4" width="37.5" height="2.9" fill="#e84e28"/>
<rect x="97.4" y="111.4" width="26.3" height="2.9" fill="#ef7e35"/>
<rect x="123.4" y="111.4" width="21.8" height="2.9" fill="#f2a83f"/>
<rect x="144.9" y="111.4" width="17.3" height="2.9" fill="#f5cd47"/>
<rect x="161.9" y="111.4" width="14.4" height="2.9" fill="#f3f24e"/>
<rect x="176.0" y="111.4" width="12.7" height="2.9" fill="#dcf751"/>
<rect x="188.4" y="111.4" width="11.2" height="2.9" fill="#bdf867"/>
<rect x="199.3" y="111.4" width="10.4" height="2.9" fill="#a6f879"/>
<rect x="0.0" y="114.0" width="60.5" height="8.3" fill="#991a13"/>
<rect x="60.2" y="114.0" width="37.5" height="8.3" fill="#b02117"/>
<rect x="97.4" y="114.0" width="26.3" height="8.3" fill="#e64526"/>
<rect x="123.4" y="114.0" width="21.8" height="8.3" fill="#ee7a34"/>
<rect x="144.9" y="114.0" width="17.3" height="8.3" fill="#f2ad41"/>
<rect x="161.9" y="114.0" width="14.4" height="8.3" fill="#f5df4a"/>
<rect x="176.0" y="114.0" width="12.7" height="8.3" fill="#e8f450"/>
<rect x="188.4" y="114.0" width="11.2" height="8.3" fill="#c9f85d"/>
<rect x="199.3" y="114.0" width="10.4" height="8.3" fill="#adf873"/>
<rect x="0.0" y="122.0" width="60.5" height="10.3" fill="#d22a1c"/>
<rect x="60.2" y="122.0" width="37.5" height="10.3" fill="#d8301e"/>
<rect x="97.4" y="122.0" width="26.3" height="10.3" fill="#eb5d2c"/>
<rect x="123.4" y="122.0" width="21.8" height="10.3" fill="#f08c38"/>
<rect x="144.9" y="122.0" width="17.3" height="10.3" fill="#f3ba43"/>
<rect x="161.9" y="122.0" width="14.4" height="10.3" fill="#f5e64c"/>
<rect x="176.0" y="122.0" width="12.7" height="10.3" fill="#e4f550"/>
<rect x="188.4" y="122.0" width="11.2" height="10.3" fill="#c7f85f"/>
<rect x="199.3" y="122.0" width="10.4" height="10.3" fill="#adf873"/>
<rect x="0.0" y="132.0" width="60.5" height="6.3" fill="#8c1611"/>
<rect x="60.2" y="132.0" width="37.5" height="6.3" fill="#a01c14"/>
<rect x="97.4" y="132.0" width="26.3" height="6.3" fill="#e43e24"/>
<rect x="123.4" y="132.0" width="21.8" height="6.3" fill="#ee7532"/>
<rect x="144.9" y="132.0" width="17.3" height="6.3" fill="#f2a93f"/>
<rect x="161.9" y="132.0" width="14.4" height="6.3" fill="#f5dd4a"/>
<rect x="176.0" y="132.0" width="12.7" height="6.3" fill="#e9f450"/>
<rect x="188.4" y="132.0" width="11.2" height="6.3" fill="#caf85c"/>
<rect x="199.3" y="132.0" width="10.4" height="6.3" fill="#adf873"/>
<rect x="0.0" y="138.0" width="60.5" height="8.3" fill="#78100e"/>
<rect x="60.2" y="138.0" width="37.5" height="8.3" fill="#8d1611"/>
<rect x="97.4" y="138.0" width="26.3" height="8.3" fill="#e03721"/>
<rect x="123.4" y="138.0" width="21.8" height="8.3" fill="#ed6d30"/>
<rect x="144.9" y="138.0" width="17.3" height="8.3" fill="#f1a33e"/>
<rect x="161.9" y="138.0" width="14.4" height="8.3" fill="#f5d949"/>
<rect x="176.0" y="138.0" width="12.7" height="8.3" fill="#ebf44f"/>
<rect x="188.4" y="138.0" width="11.2" height="8.3" fill="#cbf85b"/>
<rect x="199.3" y="138.0" width="10.4" height="8.3" fill="#adf873"/>
<rect x="0.0" y="146.0" width="60.5" height="10.3" fill="#991a13"/>
<rect x="60.2" y="146.0" width="37.5" height="10.3" fill="#b12117"/>
<rect x="97.4" y="146.0" width="26.3" height="10.3" fill="#e64626"/>
<rect x="123.4" y="146.0" width="21.8" height="10.3" fill="#ef7d34"/>
<rect x="144.9" y="146.0" width="17.3" height="10.3" fill="#f2b141"/>
<rect x="161.9" y="146.0" width="14.4" height="10.3" fill="#f5e34b"/>
<rect x="176.0" y="146.0" width="12.7" height="10.3" fill="#e4f550"/>
<rect x="188.4" y="146.0" width="11.2" height="10.3" fill="#c1f863"/>
<rect x="199.3" y="146.0" width="10.4" height="10.3" fill="#a5f87a"/>
<rect x="0.0" y="156.0" width="60.5" height="14.3" fill="#e03721"/>
<rect x="60.2" y="156.0" width="37.5" height="14.3" fill="#e53f24"/>
<rect x="97.4" y="156.0" width="26.3" height="14.3" fill="#ee7432"/>
<rect x="123.4" y="156.0" width="21.8" height="14.3" fill="#f1a13e"/>
<rect x="144.9" y="156.0" width="17.3" height="14.3" fill="#f4cb47"/>
<rect x="161.9" y="156.0" width="14.4" height="14.3" fill="#f3f24e"/>
<rect x="176.0" y="156.0" width="12.7" height="14.3" fill="#d9f752"/>
<rect x="188.4" y="156.0" width="11.2" height="14.3" fill="#b6f86c"/>
<rect x="199.3" y="156.0" width="10.4" height="14.3" fill="#9ef884"/>
<rect x="0.0" y="170.0" width="60.5" height="23.3" fill="#e43c23"/>
<rect x="60.2" y="170.0" width="37.5" height="23.3" fill="#e64826"/>
<rect x="97.4" y="170.0" width="26.3" height="23.3" fill="#ef7c34"/>
<rect x="123.4" y="170.0" width="21.8" height="23.3" fill="#f2a940"/>
<rect x="144.9" y="170.0" width="17.3" height="23.3" fill="#f5d248"/>
<rect x="161.9" y="170.0" width="14.4" height="23.3" fill="#edf34f"/>
<rect x="176.0" y="170.0" width="12.7" height="23.3" fill="#d3f855"/>
<rect x="188.4" y="170.0" width="11.2" height="23.3" fill="#adf873"/>
<rect x="199.3" y="170.0" width="10.4" height="23.3" fill="#98f78d"/>
<rect x="0" y="29" width="209.4" height="1" fill="#b0b0b0" opacity="0.6"/>
<rect x="0" y="108.5" width="209.4" height="1" fill="#b0b0b0" opacity="0.6"/>
<rect x="0" y="187.5" width="209.4" height="1" fill="#b0b0b0" opacity="0.6"/>
<rect x="71.6" y="0" width="1" height="193" fill="#b0b0b0" opacity="0.6"/>
<rect x="-0.5" y="0" width="1" height="193" fill="#333"/>
<rect x="0" y="192.5" width="209.4" height="1" fill="#333"/>
</g>
<rect x="214" y="696" width="213" height="198" fill="#fff"/>
<g transform="translate(215.5,698)">
<rect x="0.0" y="0.0" width="60.5" height="1.5" fill="#4196f5"/>
<rect x="60.2" y="0.0" width="37.5" height="1.5" fill="#3f92f5"/>
<rect x="97.4" y="0.0" width="26.3" height="1.5" fill="#337ef5"/>
<rect x="123.4" y="0.0" width="21.8" height="1.5" fill="#286cf5"/>
<rect x="144.9" y="0.0" width="17.3" height="1.5" fill="#1e5af5"/>
<rect x="161.9" y="0.0" width="14.4" height="1.5" fill="#1749f2"/>
<rect x="176.0" y="0.0" width="12.7" height="1.5" fill="#123cef"/>
<rect x="188.4" y="0.0" width="11.2" height="1.5" fill="#0d30ed"/>
<rect x="199.3" y="0.0" width="10.4" height="1.5" fill="#0a28eb"/>
<rect x="0.0" y="1.2" width="60.5" height="3.1" fill="#55c3f5"/>
<rect x="60.2" y="1.2" width="37.5" height="3.1" fill="#53bef5"/>
<rect x="97.4" y="1.2" width="26.3" height="3.1" fill="#49a8f5"/>
<rect x="123.4" y="1.2" width="21.8" height="3.1" fill="#4093f5"/>
<rect x="144.9" y="1.2" width="17.3" height="3.1" fill="#327cf5"/>
<rect x="161.9" y="1.2" width="14.4" height="3.1" fill="#2362f5"/>
<rect x="176.0" y="1.2" width="12.7" height="3.1" fill="#1a50f3"/>
<rect x="188.4" y="1.2" width="11.2" height="3.1" fill="#1441f0"/>
<rect x="199.3" y="1.2" width="10.4" height="3.1" fill="#1036ee"/>
<rect x="0.0" y="4.0" width="60.5" height="4.3" fill="#66e4ec"/>
<rect x="60.2" y="4.0" width="37.5" height="4.3" fill="#64e1ef"/>
<rect x="97.4" y="4.0" width="26.3" height="4.3" fill="#5acef3"/>
<rect x="123.4" y="4.0" width="21.8" height="4.3" fill="#50b9f5"/>
<rect x="144.9" y="4.0" width="17.3" height="4.3" fill="#449ef5"/>
<rect x="161.9" y="4.0" width="14.4" height="4.3" fill="#327cf5"/>
<rect x="176.0" y="4.0" width="12.7" height="4.3" fill="#2261f5"/>
<rect x="188.4" y="4.0" width="11.2" height="4.3" fill="#184bf2"/>
<rect x="199.3" y="4.0" width="10.4" height="4.3" fill="#133def"/>
<rect x="0.0" y="8.0" width="60.5" height="3.9" fill="#4eb4f5"/>
<rect x="60.2" y="8.0" width="37.5" height="3.9" fill="#4cb0f5"/>
<rect x="97.4" y="8.0" width="26.3" height="3.9" fill="#439bf5"/>
<rect x="123.4" y="8.0" width="21.8" height="3.9" fill="#3785f5"/>
<rect x="144.9" y="8.0" width="17.3" height="3.9" fill="#2a6ff5"/>
<rect x="161.9" y="8.0" width="14.4" height="3.9" fill="#1d57f4"/>
<rect x="176.0" y="8.0" width="12.7" height="3.9" fill="#1747f1"/>
<rect x="188.4" y="8.0" width="11.2" height="3.9" fill="#1139ee"/>
<rect x="199.3" y="8.0" width="10.4" height="3.9" fill="#0d2fec"/>
<rect x="0.0" y="11.6" width="60.5" height="3.7" fill="#0d2fec"/>
<rect x="60.2" y="11.6" width="37.5" height="3.7" fill="#0c2cec"/>
<rect x="97.4" y="11.6" width="26.3" height="3.7" fill="#0821e4"/>
<rect x="123.4" y="11.6" width="21.8" height="3.7" fill="#0417da"/>
<rect x="144.9" y="11.6" width="17.3" height="3.7" fill="#010dd0"/>
<rect x="161.9" y="11.6" width="14.4" height="3.7" fill="#0007be"/>
<rect x="176.0" y="11.6" width="12.7" height="3.7" fill="#0004ae"/>
<rect x="188.4" y="11.6" width="11.2" height="3.7" fill="#0002a0"/>
<rect x="199.3" y="11.6" width="10.4" height="3.7" fill="#000096"/>
<rect x="0.0" y="15.0" width="60.5" height="3.3" fill="#5fd7f2"/>
<rect x="60.2" y="15.0" width="37.5" height="3.3" fill="#5dd3f2"/>
<rect x="97.4" y="15.0" width="26.3" height="3.3" fill="#52bdf5"/>
<rect x="123.4" y="15.0" width="21.8" height="3.3" fill="#46a2f5"/>
<rect x="144.9" y="15.0" width="17.3" height="3.3" fill="#3785f5"/>
<rect x="161.9" y="15.0" width="14.4" height="3.3" fill="#2362f5"/>
<rect x="176.0" y="15.0" width="12.7" height="3.3" fill="#184af2"/>
<rect x="188.4" y="15.0" width="11.2" height="3.3" fill="#0f36ee"/>
<rect x="199.3" y="15.0" width="10.4" height="3.3" fill="#0a28eb"/>
<rect x="0.0" y="18.0" width="60.5" height="2.8" fill="#6ef0d7"/>
<rect x="60.2" y="18.0" width="37.5" height="2.8" fill="#6deeda"/>
<rect x="97.4" y="18.0" width="26.3" height="2.8" fill="#66e4eb"/>
<rect x="123.4" y="18.0" width="21.8" height="2.8" fill="#5ed5f2"/>
<rect x="144.9" y="18.0" width="17.3" height="2.8" fill="#55c3f5"/>
<rect x="161.9" y="18.0" width="14.4" height="2.8" fill="#47a4f5"/>
<rect x="176.0" y="18.0" width="12.7" height="2.8" fill="#3b8cf5"/>
<rect x="188.4" y="18.0" width="11.2" height="2.8" fill="#2d73f5"/>
<rect x="199.3" y="18.0" width="10.4" height="2.8" fill="#2363f5"/>
<rect x="0.0" y="20.5" width="60.5" height="8.3" fill="#7af4ba"/>
<rect x="60.2" y="20.5" width="37.5" height="8.3" fill="#78f3bf"/>
<rect x="97.4" y="20.5" width="26.3" height="8.3" fill="#6ef0d7"/>
<rect x="123.4" y="20.5" width="21.8" height="8.3" fill="#68e7e7"/>
<rect x="144.9" y="20.5" width="17.3" height="8.3" fill="#60daf1"/>
<rect x="161.9" y="20.5" width="14.4" height="8.3" fill="#56c4f5"/>
<rect x="176.0" y="20.5" width="12.7" height="8.3" fill="#4badf5"/>
<rect x="188.4" y="20.5" width="11.2" height="8.3" fill="#4196f5"/>
<rect x="199.3" y="20.5" width="10.4" height="8.3" fill="#3785f5"/>
<rect x="0.0" y="28.5" width="60.5" height="6.8" fill="#78f3c0"/>
<rect x="60.2" y="28.5" width="37.5" height="6.8" fill="#76f3c5"/>
<rect x="97.4" y="28.5" width="26.3" height="6.8" fill="#6cecdd"/>
<rect x="123.4" y="28.5" width="21.8" height="6.8" fill="#65e2ee"/>
<rect x="144.9" y="28.5" width="17.3" height="6.8" fill="#5bd0f3"/>
<rect x="161.9" y="28.5" width="14.4" height="6.8" fill="#4eb3f5"/>
<rect x="176.0" y="28.5" width="12.7" height="6.8" fill="#4299f5"/>
<rect x="188.4" y="28.5" width="11.2" height="6.8" fill="#337ef5"/>
<rect x="199.3" y="28.5" width="10.4" height="6.8" fill="#286bf5"/>
<rect x="0.0" y="35.0" width="60.5" height="3.8" fill="#2d74f5"/>
<rect x="60.2" y="35.0" width="37.5" height="3.8" fill="#2a6ff5"/>
<rect x="97.4" y="35.0" width="26.3" height="3.8" fill="#1d57f4"/>
<rect x="123.4" y="35.0" width="21.8" height="3.8" fill="#1645f1"/>
<rect x="144.9" y="35.0" width="17.3" height="3.8" fill="#0e33ed"/>
<rect x="161.9" y="35.0" width="14.4" height="3.8" fill="#0720e3"/>
<rect x="176.0" y="35.0" width="12.7" height="3.8" fill="#0312d5"/>
<rect x="188.4" y="35.0" width="11.2" height="3.8" fill="#0009c6"/>
<rect x="199.3" y="35.0" width="10.4" height="3.8" fill="#0006b7"/>
<rect x="0.0" y="38.5" width="60.5" height="1.8" fill="#6ef0d7"/>
<rect x="60.2" y="38.5" width="37.5" height="1.8" fill="#6deeda"/>
<rect x="97.4" y="38.5" width="26.3" height="1.8" fill="#67e5e9"/>
<rect x="123.4" y="38.5" width="21.8" height="1.8" fill="#60d8f1"/>
<rect x="144.9" y="38.5" width="17.3" height="1.8" fill="#58c8f4"/>
<rect x="161.9" y="38.5" width="14.4" height="1.8" fill="#4caef5"/>
<rect x="176.0" y="38.5" width="12.7" height="1.8" fill="#4299f5"/>
<rect x="188.4" y="38.5" width="11.2" height="1.8" fill="#3683f5"/>
<rect x="199.3" y="38.5" width="10.4" height="1.8" fill="#2d74f5"/>
<rect x="0.0" y="40.0" width="60.5" height="5.0" fill="#8af6a1"/>
<rect x="60.2" y="40.0" width="37.5" height="5.0" fill="#85f6a8"/>
<rect x="97.4" y="40.0" width="26.3" height="5.0" fill="#78f3c1"/>
<rect x="123.4" y="40.0" width="21.8" height="5.0" fill="#70f1d3"/>
<rect x="144.9" y="40.0" width="17.3" height="5.0" fill="#6aeae1"/>
<rect x="161.9" y="40.0" width="14.4" height="5.0" fill="#64e1f0"/>
<rect x="176.0" y="40.0" width="12.7" height="5.0" fill="#5dd3f2"/>
<rect x="188.4" y="40.0" width="11.2" height="5.0" fill="#57c6f4"/>
<rect x="199.3" y="40.0" width="10.4" height="5.0" fill="#52bcf5"/>
<rect x="0.0" y="44.7" width="60.5" height="5.1" fill="#bdf866"/>
<rect x="60.2" y="44.7" width="37.5" height="5.1" fill="#b7f86b"/>
<rect x="97.4" y="44.7" width="26.3" height="5.1" fill="#9df786"/>
<rect x="123.4" y="44.7" width="21.8" height="5.1" fill="#88f6a4"/>
<rect x="144.9" y="44.7" width="17.3" height="5.1" fill="#79f4bd"/>
<rect x="161.9" y="44.7" width="14.4" height="5.1" fill="#70f1d2"/>
<rect x="176.0" y="44.7" width="12.7" height="5.1" fill="#6becde"/>
<rect x="188.4" y="44.7" width="11.2" height="5.1" fill="#67e5e9"/>
<rect x="199.3" y="44.7" width="10.4" height="5.1" fill="#64e1f0"/>
<rect x="0.0" y="49.5" width="60.5" height="5.8" fill="#ebf44f"/>
<rect x="60.2" y="49.5" width="37.5" height="5.8" fill="#e7f550"/>
<rect x="97.4" y="49.5" width="26.3" height="5.8" fill="#d1f856"/>
<rect x="123.4" y="49.5" width="21.8" height="5.8" fill="#b5f86d"/>
<rect x="144.9" y="49.5" width="17.3" height="5.8" fill="#9bf788"/>
<rect x="161.9" y="49.5" width="14.4" height="5.8" fill="#81f5ae"/>
<rect x="176.0" y="49.5" width="12.7" height="5.8" fill="#77f3c2"/>
<rect x="188.4" y="49.5" width="11.2" height="5.8" fill="#70f1d2"/>
<rect x="199.3" y="49.5" width="10.4" height="5.8" fill="#6ceedb"/>
<rect x="0.0" y="55.0" width="60.5" height="2.3" fill="#f1f34f"/>
<rect x="60.2" y="55.0" width="37.5" height="2.3" fill="#edf44f"/>
<rect x="97.4" y="55.0" width="26.3" height="2.3" fill="#daf751"/>
<rect x="123.4" y="55.0" width="21.8" height="2.3" fill="#c1f863"/>
<rect x="144.9" y="55.0" width="17.3" height="2.3" fill="#a6f879"/>
<rect x="161.9" y="55.0" width="14.4" height="2.3" fill="#8df69d"/>
<rect x="176.0" y="55.0" width="12.7" height="2.3" fill="#7cf5b7"/>
<rect x="188.4" y="55.0" width="11.2" height="2.3" fill="#75f2c6"/>
<rect x="199.3" y="55.0" width="10.4" height="2.3" fill="#71f1d1"/>
<rect x="0.0" y="57.0" width="60.5" height="2.3" fill="#f5e04b"/>
<rect x="60.2" y="57.0" width="37.5" height="2.3" fill="#f5e54c"/>
<rect x="97.4" y="57.0" width="26.3" height="2.3" fill="#ebf44f"/>
<rect x="123.4" y="57.0" width="21.8" height="2.3" fill="#d8f852"/>
<rect x="144.9" y="57.0" width="17.3" height="2.3" fill="#bcf867"/>
<rect x="161.9" y="57.0" width="14.4" height="2.3" fill="#9df786"/>
<rect x="176.0" y="57.0" width="12.7" height="2.3" fill="#88f6a4"/>
<rect x="188.4" y="57.0" width="11.2" height="2.3" fill="#7af4bb"/>
<rect x="199.3" y="57.0" width="10.4" height="2.3" fill="#75f2c6"/>
<rect x="0.0" y="59.0" width="60.5" height="3.3" fill="#f5d849"/>
<rect x="60.2" y="59.0" width="37.5" height="3.3" fill="#f5de4a"/>
<rect x="97.4" y="59.0" width="26.3" height="3.3" fill="#f0f34f"/>
<rect x="123.4" y="59.0" width="21.8" height="3.3" fill="#dcf751"/>
<rect x="144.9" y="59.0" width="17.3" height="3.3" fill="#c2f863"/>
<rect x="161.9" y="59.0" width="14.4" height="3.3" fill="#a0f881"/>
<rect x="176.0" y="59.0" width="12.7" height="3.3" fill="#8af6a1"/>
<rect x="188.4" y="59.0" width="11.2" height="3.3" fill="#7af4ba"/>
<rect x="199.3" y="59.0" width="10.4" height="3.3" fill="#76f2c6"/>
<rect x="0.0" y="62.0" width="60.5" height="2.6" fill="#f4c345"/>
<rect x="60.2" y="62.0" width="37.5" height="2.6" fill="#f4c946"/>
<rect x="97.4" y="62.0" width="26.3" height="2.6" fill="#f5e54c"/>
<rect x="123.4" y="62.0" width="21.8" height="2.6" fill="#ebf44f"/>
<rect x="144.9" y="62.0" width="17.3" height="2.6" fill="#d7f852"/>
<rect x="161.9" y="62.0" width="14.4" height="2.6" fill="#b3f86f"/>
<rect x="176.0" y="62.0" width="12.7" height="2.6" fill="#9af78a"/>
<rect x="188.4" y="62.0" width="11.2" height="2.6" fill="#85f6a9"/>
<rect x="199.3" y="62.0" width="10.4" height="2.6" fill="#7bf4b9"/>
<rect x="0.0" y="64.3" width="60.5" height="2.6" fill="#f2a93f"/>
<rect x="60.2" y="64.3" width="37.5" height="2.6" fill="#f2b041"/>
<rect x="97.4" y="64.3" width="26.3" height="2.6" fill="#f5d048"/>
<rect x="123.4" y="64.3" width="21.8" height="2.6" fill="#f5eb4d"/>
<rect x="144.9" y="64.3" width="17.3" height="2.6" fill="#e5f550"/>
<rect x="161.9" y="64.3" width="14.4" height="2.6" fill="#c7f85f"/>
<rect x="176.0" y="64.3" width="12.7" height="2.6" fill="#a9f877"/>
<rect x="188.4" y="64.3" width="11.2" height="2.6" fill="#92f796"/>
<rect x="199.3" y="64.3" width="10.4" height="2.6" fill="#83f5ab"/>
<rect x="0.0" y="66.7" width="60.5" height="2.6" fill="#f4c345"/>
<rect x="60.2" y="66.7" width="37.5" height="2.6" fill="#f4c946"/>
<rect x="97.4" y="66.7" width="26.3" height="2.6" fill="#f5e54c"/>
<rect x="123.4" y="66.7" width="21.8" height="2.6" fill="#ebf44f"/>
<rect x="144.9" y="66.7" width="17.3" height="2.6" fill="#d7f852"/>
<rect x="161.9" y="66.7" width="14.4" height="2.6" fill="#b3f86f"/>
<rect x="176.0" y="66.7" width="12.7" height="2.6" fill="#9af78a"/>
<rect x="188.4" y="66.7" width="11.2" height="2.6" fill="#85f6a9"/>
<rect x="199.3" y="66.7" width="10.4" height="2.6" fill="#7bf4b9"/>
<rect x="0.0" y="69.0" width="60.5" height="3.3" fill="#ef8135"/>
<rect x="60.2" y="69.0" width="37.5" height="3.3" fill="#f08938"/>
<rect x="97.4" y="69.0" width="26.3" height="3.3" fill="#f2b242"/>
<rect x="123.4" y="69.0" width="21.8" height="3.3" fill="#f5d248"/>
<rect x="144.9" y="69.0" width="17.3" height="3.3" fill="#f5f04e"/>
<rect x="161.9" y="69.0" width="14.4" height="3.3" fill="#dcf751"/>
<rect x="176.0" y="69.0" width="12.7" height="3.3" fill="#bef865"/>
<rect x="188.4" y="69.0" width="11.2" height="3.3" fill="#a1f880"/>
<rect x="199.3" y="69.0" width="10.4" height="3.3" fill="#90f698"/>
<rect x="0.0" y="72.0" width="60.5" height="3.3" fill="#f19d3d"/>
<rect x="60.2" y="72.0" width="37.5" height="3.3" fill="#f2a63f"/>
<rect x="97.4" y="72.0" width="26.3" height="3.3" fill="#f4c846"/>
<rect x="123.4" y="72.0" width="21.8" height="3.3" fill="#f5e54c"/>
<rect x="144.9" y="72.0" width="17.3" height="3.3" fill="#e9f450"/>
<rect x="161.9" y="72.0" width="14.4" height="3.3" fill="#cbf85b"/>
<rect x="176.0" y="72.0" width="12.7" height="3.3" fill="#adf874"/>
<rect x="188.4" y="72.0" width="11.2" height="3.3" fill="#94f793"/>
<rect x="199.3" y="72.0" width="10.4" height="3.3" fill="#84f6a9"/>
<rect x="0.0" y="75.0" width="60.5" height="3.3" fill="#eb612d"/>
<rect x="60.2" y="75.0" width="37.5" height="3.3" fill="#ec6a30"/>
<rect x="97.4" y="75.0" width="26.3" height="3.3" fill="#f1953b"/>
<rect x="123.4" y="75.0" width="21.8" height="3.3" fill="#f3bb43"/>
<rect x="144.9" y="75.0" width="17.3" height="3.3" fill="#f5dd4a"/>
<rect x="161.9" y="75.0" width="14.4" height="3.3" fill="#e9f44f"/>
<rect x="176.0" y="75.0" width="12.7" height="3.3" fill="#d2f855"/>
<rect x="188.4" y="75.0" width="11.2" height="3.3" fill="#b2f870"/>
<rect x="199.3" y="75.0" width="10.4" height="3.3" fill="#9ef785"/>
<rect x="0.0" y="78.0" width="60.5" height="3.3" fill="#ef7d35"/>
<rect x="60.2" y="78.0" width="37.5" height="3.3" fill="#f08637"/>
<rect x="97.4" y="78.0" width="26.3" height="3.3" fill="#f2af41"/>
<rect x="123.4" y="78.0" width="21.8" height="3.3" fill="#f5d048"/>
<rect x="144.9" y="78.0" width="17.3" height="3.3" fill="#f5ee4d"/>
<rect x="161.9" y="78.0" width="14.4" height="3.3" fill="#ddf751"/>
<rect x="176.0" y="78.0" width="12.7" height="3.3" fill="#c0f864"/>
<rect x="188.4" y="78.0" width="11.2" height="3.3" fill="#a2f87e"/>
<rect x="199.3" y="78.0" width="10.4" height="3.3" fill="#92f796"/>
<rect x="0.0" y="81.0" width="60.5" height="3.3" fill="#e64626"/>
<rect x="60.2" y="81.0" width="37.5" height="3.3" fill="#e85129"/>
<rect x="97.4" y="81.0" width="26.3" height="3.3" fill="#ef7f35"/>
<rect x="123.4" y="81.0" width="21.8" height="3.3" fill="#f2a83f"/>
<rect x="144.9" y="81.0" width="17.3" height="3.3" fill="#f4cc47"/>
<rect x="161.9" y="81.0" width="14.4" height="3.3" fill="#f5f14e"/>
<rect x="176.0" y="81.0" width="12.7" height="3.3" fill="#dff651"/>
<rect x="188.4" y="81.0" width="11.2" height="3.3" fill="#c2f862"/>
<rect x="199.3" y="81.0" width="10.4" height="3.3" fill="#acf874"/>
<rect x="0.0" y="84.0" width="60.5" height="3.3" fill="#ec652f"/>
<rect x="60.2" y="84.0" width="37.5" height="3.3" fill="#ed6e31"/>
<rect x="97.4" y="84.0" width="26.3" height="3.3" fill="#f1993b"/>
<rect x="123.4" y="84.0" width="21.8" height="3.3" fill="#f3bd44"/>
<rect x="144.9" y="84.0" width="17.3" height="3.3" fill="#f5de4a"/>
<rect x="161.9" y="84.0" width="14.4" height="3.3" fill="#e9f450"/>
<rect x="176.0" y="84.0" width="12.7" height="3.3" fill="#d2f855"/>
<rect x="188.4" y="84.0" width="11.2" height="3.3" fill="#b3f86f"/>
<rect x="199.3" y="84.0" width="10.4" height="3.3" fill="#9ff883"/>
<rect x="0.0" y="87.0" width="60.5" height="3.3" fill="#dc3420"/>
<rect x="60.2" y="87.0" width="37.5" height="3.3" fill="#e13922"/>
<rect x="97.4" y="87.0" width="26.3" height="3.3" fill="#ec682f"/>
<rect x="123.4" y="87.0" width="21.8" height="3.3" fill="#f1923a"/>
<rect x="144.9" y="87.0" width="17.3" height="3.3" fill="#f3bb43"/>
<rect x="161.9" y="87.0" width="14.4" height="3.3" fill="#f5e34b"/>
<rect x="176.0" y="87.0" width="12.7" height="3.3" fill="#eaf44f"/>
<rect x="188.4" y="87.0" width="11.2" height="3.3" fill="#d3f854"/>
<rect x="199.3" y="87.0" width="10.4" height="3.3" fill="#bdf867"/>
<rect x="0.0" y="90.0" width="60.5" height="3.3" fill="#e74c28"/>
<rect x="60.2" y="90.0" width="37.5" height="3.3" fill="#e9562a"/>
<rect x="97.4" y="90.0" width="26.3" height="3.3" fill="#ef8236"/>
<rect x="123.4" y="90.0" width="21.8" height="3.3" fill="#f2aa40"/>
<rect x="144.9" y="90.0" width="17.3" height="3.3" fill="#f5cd47"/>
<rect x="161.9" y="90.0" width="14.4" height="3.3" fill="#f5f24e"/>
<rect x="176.0" y="90.0" width="12.7" height="3.3" fill="#dff651"/>
<rect x="188.4" y="90.0" width="11.2" height="3.3" fill="#c4f861"/>
<rect x="199.3" y="90.0" width="10.4" height="3.3" fill="#aef873"/>
<rect x="0.0" y="93.0" width="60.5" height="2.8" fill="#c5261a"/>
<rect x="60.2" y="93.0" width="37.5" height="2.8" fill="#d42c1d"/>
<rect x="97.4" y="93.0" width="26.3" height="2.8" fill="#e9542a"/>
<rect x="123.4" y="93.0" width="21.8" height="2.8" fill="#ef8336"/>
<rect x="144.9" y="93.0" width="17.3" height="2.8" fill="#f2b041"/>
<rect x="161.9" y="93.0" width="14.4" height="2.8" fill="#f5dc4a"/>
<rect x="176.0" y="93.0" width="12.7" height="2.8" fill="#edf44f"/>
<rect x="188.4" y="93.0" width="11.2" height="2.8" fill="#d5f852"/>
<rect x="199.3" y="93.0" width="10.4" height="2.8" fill="#bdf867"/>
<rect x="0.0" y="95.5" width="60.5" height="2.8" fill="#df3721"/>
<rect x="60.2" y="95.5" width="37.5" height="2.8" fill="#e43d23"/>
<rect x="97.4" y="95.5" width="26.3" height="2.8" fill="#ed6f31"/>
<rect x="123.4" y="95.5" width="21.8" height="2.8" fill="#f19a3c"/>
<rect x="144.9" y="95.5" width="17.3" height="2.8" fill="#f4c345"/>
<rect x="161.9" y="95.5" width="14.4" height="2.8" fill="#f5ec4d"/>
<rect x="176.0" y="95.5" width="12.7" height="2.8" fill="#e2f650"/>
<rect x="188.4" y="95.5" width="11.2" height="2.8" fill="#c6f85f"/>
<rect x="199.3" y="95.5" width="10.4" height="2.8" fill="#aef873"/>
<rect x="0.0" y="98.0" width="60.5" height="2.8" fill="#d72f1e"/>
<rect x="60.2" y="98.0" width="37.5" height="2.8" fill="#dd3520"/>
<rect x="97.4" y="98.0" width="26.3" height="2.8" fill="#eb622e"/>
<rect x="123.4" y="98.0" width="21.8" height="2.8" fill="#f08d39"/>
<rect x="144.9" y="98.0" width="17.3" height="2.8" fill="#f3b743"/>
<rect x="161.9" y="98.0" width="14.4" height="2.8" fill="#f5e04b"/>
<rect x="176.0" y="98.0" width="12.7" height="2.8" fill="#ebf44f"/>
<rect x="188.4" y="98.0" width="11.2" height="2.8" fill="#d4f854"/>
<rect x="199.3" y="98.0" width="10.4" height="2.8" fill="#bdf867"/>
<rect x="0.0" y="100.5" width="60.5" height="2.8" fill="#e54325"/>
<rect x="60.2" y="100.5" width="37.5" height="2.8" fill="#e74d28"/>
<rect x="97.4" y="100.5" width="26.3" height="2.8" fill="#ef7c34"/>
<rect x="123.4" y="100.5" width="21.8" height="2.8" fill="#f1a53e"/>
<rect x="144.9" y="100.5" width="17.3" height="2.8" fill="#f4ca46"/>
<rect x="161.9" y="100.5" width="14.4" height="2.8" fill="#f5f04e"/>
<rect x="176.0" y="100.5" width="12.7" height="2.8" fill="#e0f651"/>
<rect x="188.4" y="100.5" width="11.2" height="2.8" fill="#c4f860"/>
<rect x="199.3" y="100.5" width="10.4" height="2.8" fill="#aef873"/>
<rect x="0.0" y="103.0" width="60.5" height="3.2" fill="#a31d15"/>
<rect x="60.2" y="103.0" width="37.5" height="3.2" fill="#bb2318"/>
<rect x="97.4" y="103.0" width="26.3" height="3.2" fill="#e64626"/>
<rect x="123.4" y="103.0" width="21.8" height="3.2" fill="#ee7833"/>
<rect x="144.9" y="103.0" width="17.3" height="3.2" fill="#f2a83f"/>
<rect x="161.9" y="103.0" width="14.4" height="3.2" fill="#f5d849"/>
<rect x="176.0" y="103.0" width="12.7" height="3.2" fill="#eff34f"/>
<rect x="188.4" y="103.0" width="11.2" height="3.2" fill="#d6f852"/>
<rect x="199.3" y="103.0" width="10.4" height="3.2" fill="#bdf867"/>
<rect x="0.0" y="105.9" width="60.5" height="3.2" fill="#d62e1d"/>
<rect x="60.2" y="105.9" width="37.5" height="3.2" fill="#dc3420"/>
<rect x="97.4" y="105.9" width="26.3" height="3.2" fill="#eb622e"/>
<rect x="123.4" y="105.9" width="21.8" height="3.2" fill="#f09039"/>
<rect x="144.9" y="105.9" width="17.3" height="3.2" fill="#f3bc44"/>
<rect x="161.9" y="105.9" width="14.4" height="3.2" fill="#f5e74c"/>
<rect x="176.0" y="105.9" width="12.7" height="3.2" fill="#e4f550"/>
<rect x="188.4" y="105.9" width="11.2" height="3.2" fill="#c7f85e"/>
<rect x="199.3" y="105.9" width="10.4" height="3.2" fill="#aef873"/>
<rect x="0.0" y="108.7" width="60.5" height="2.9" fill="#d72f1e"/>
<rect x="60.2" y="108.7" width="37.5" height="2.9" fill="#dd3520"/>
<rect x="97.4" y="108.7" width="26.3" height="2.9" fill="#ec642e"/>
<rect x="123.4" y="108.7" width="21.8" height="2.9" fill="#f09039"/>
<rect x="144.9" y="108.7" width="17.3" height="2.9" fill="#f3bb43"/>
<rect x="161.9" y="108.7" width="14.4" height="2.9" fill="#f5e54c"/>
<rect x="176.0" y="108.7" width="12.7" height="2.9" fill="#e7f550"/>
<rect x="188.4" y="108.7" width="11.2" height="2.9" fill="#cdf85a"/>
<rect x="199.3" y="108.7" width="10.4" height="2.9" fill="#b5f86d"/>
<rect x="0.0" y="111.4" width="60.5" height="2.9" fill="#e54325"/>
<rect x="60.2" y="111.4" width="37.5" height="2.9" fill="#e84e28"/>
<rect x="97.4" y="111.4" width="26.3" height="2.9" fill="#ef7e35"/>
<rect x="123.4" y="111.4" width="21.8" height="2.9" fill="#f2a83f"/>
<rect x="144.9" y="111.4" width="17.3" height="2.9" fill="#f5cd47"/>
<rect x="161.9" y="111.4" width="14.4" height="2.9" fill="#f3f24e"/>
<rect x="176.0" y="111.4" width="12.7" height="2.9" fill="#dcf751"/>
<rect x="188.4" y="111.4" width="11.2" height="2.9" fill="#bdf867"/>
<rect x="199.3" y="111.4" width="10.4" height="2.9" fill="#a6f879"/>
<rect x="0.0" y="114.0" width="60.5" height="8.3" fill="#991a13"/>
<rect x="60.2" y="114.0" width="37.5" height="8.3" fill="#b02117"/>
<rect x="97.4" y="114.0" width="26.3" height="8.3" fill="#e64526"/>
<rect x="123.4" y="114.0" width="21.8" height="8.3" fill="#ee7a34"/>
<rect x="144.9" y="114.0" width="17.3" height="8.3" fill="#f2ad41"/>
<rect x="161.9" y="114.0" width="14.4" height="8.3" fill="#f5df4a"/>
<rect x="176.0" y="114.0" width="12.7" height="8.3" fill="#e8f450"/>
<rect x="188.4" y="114.0" width="11.2" height="8.3" fill="#c9f85d"/>
<rect x="199.3" y="114.0" width="10.4" height="8.3" fill="#adf873"/>
<rect x="0.0" y="122.0" width="60.5" height="10.3" fill="#d22a1c"/>
<rect x="60.2" y="122.0" width="37.5" height="10.3" fill="#d8301e"/>
<rect x="97.4" y="122.0" width="26.3" height="10.3" fill="#eb5d2c"/>
<rect x="123.4" y="122.0" width="21.8" height="10.3" fill="#f08c38"/>
<rect x="144.9" y="122.0" width="17.3" height="10.3" fill="#f3ba43"/>
<rect x="161.9" y="122.0" width="14.4" height="10.3" fill="#f5e64c"/>
<rect x="176.0" y="122.0" width="12.7" height="10.3" fill="#e4f550"/>
<rect x="188.4" y="122.0" width="11.2" height="10.3" fill="#c7f85f"/>
<rect x="199.3" y="122.0" width="10.4" height="10.3" fill="#adf873"/>
<rect x="0.0" y="132.0" width="60.5" height="6.3" fill="#8c1611"/>
<rect x="60.2" y="132.0" width="37.5" height="6.3" fill="#a01c14"/>
<rect x="97.4" y="132.0" width="26.3" height="6.3" fill="#e43e24"/>
<rect x="123.4" y="132.0" width="21.8" height="6.3" fill="#ee7532"/>
<rect x="144.9" y="132.0" width="17.3" height="6.3" fill="#f2a93f"/>
<rect x="161.9" y="132.0" width="14.4" height="6.3" fill="#f5dd4a"/>
<rect x="176.0" y="132.0" width="12.7" height="6.3" fill="#e9f450"/>
<rect x="188.4" y="132.0" width="11.2" height="6.3" fill="#caf85c"/>
<rect x="199.3" y="132.0" width="10.4" height="6.3" fill="#adf873"/>
<rect x="0.0" y="138.0" width="60.5" height="8.3" fill="#78100e"/>
<rect x="60.2" y="138.0" width="37.5" height="8.3" fill="#8d1611"/>
<rect x="97.4" y="138.0" width="26.3" height="8.3" fill="#e03721"/>
<rect x="123.4" y="138.0" width="21.8" height="8.3" fill="#ed6d30"/>
<rect x="144.9" y="138.0" width="17.3" height="8.3" fill="#f1a33e"/>
<rect x="161.9" y="138.0" width="14.4" height="8.3" fill="#f5d949"/>
<rect x="176.0" y="138.0" width="12.7" height="8.3" fill="#ebf44f"/>
<rect x="188.4" y="138.0" width="11.2" height="8.3" fill="#cbf85b"/>
<rect x="199.3" y="138.0" width="10.4" height="8.3" fill="#adf873"/>
<rect x="0.0" y="146.0" width="60.5" height="10.3" fill="#991a13"/>
<rect x="60.2" y="146.0" width="37.5" height="10.3" fill="#b12117"/>
<rect x="97.4" y="146.0" width="26.3" height="10.3" fill="#e64626"/>
<rect x="123.4" y="146.0" width="21.8" height="10.3" fill="#ef7d34"/>
<rect x="144.9" y="146.0" width="17.3" height="10.3" fill="#f2b141"/>
<rect x="161.9" y="146.0" width="14.4" height="10.3" fill="#f5e34b"/>
<rect x="176.0" y="146.0" width="12.7" height="10.3" fill="#e4f550"/>
<rect x="188.4" y="146.0" width="11.2" height="10.3" fill="#c1f863"/>
<rect x="199.3" y="146.0" width="10.4" height="10.3" fill="#a5f87a"/>
<rect x="0.0" y="156.0" width="60.5" height="14.3" fill="#e03721"/>
<rect x="60.2" y="156.0" width="37.5" height="14.3" fill="#e53f24"/>
<rect x="97.4" y="156.0" width="26.3" height="14.3" fill="#ee7432"/>
<rect x="123.4" y="156.0" width="21.8" height="14.3" fill="#f1a13e"/>
<rect x="144.9" y="156.0" width="17.3" height="14.3" fill="#f4cb47"/>
<rect x="161.9" y="156.0" width="14.4" height="14.3" fill="#f3f24e"/>
<rect x="176.0" y="156.0" width="12.7" height="14.3" fill="#d9f752"/>
<rect x="188.4" y="156.0" width="11.2" height="14.3" fill="#b6f86c"/>
<rect x="199.3" y="156.0" width="10.4" height="14.3" fill="#9ef884"/>
<rect x="0.0" y="170.0" width="60.5" height="23.3" fill="#e43c23"/>
<rect x="60.2" y="170.0" width="37.5" height="23.3" fill="#e64826"/>
<rect x="97.4" y="170.0" width="26.3" height="23.3" fill="#ef7c34"/>
<rect x="123.4" y="170.0" width="21.8" height="23.3" fill="#f2a940"/>
<rect x="144.9" y="170.0" width="17.3" height="23.3" fill="#f5d248"/>
<rect x="161.9" y="170.0" width="14.4" height="23.3" fill="#edf34f"/>
<rect x="176.0" y="170.0" width="12.7" height="23.3" fill="#d3f855"/>
<rect x="188.4" y="170.0" width="11.2" height="23.3" fill="#adf873"/>
<rect x="199.3" y="170.0" width="10.4" height="23.3" fill="#98f78d"/>
<rect x="0" y="29" width="209.4" height="1" fill="#b0b0b0" opacity="0.6"/>
<rect x="0" y="108.5" width="209.4" height="1" fill="#b0b0b0" opacity="0.6"/>
<rect x="0" y="187.5" width="209.4" height="1" fill="#b0b0b0" opacity="0.6"/>
<rect x="71.6" y="0" width="1" height="193" fill="#b0b0b0" opacity="0.6"/>
<rect x="-0.5" y="0" width="1" height="193" fill="#333"/>
<rect x="0" y="192.5" width="209.4" height="1" fill="#333"/>
</g>
<rect x="72" y="745" width="213" height="198" fill="#fff"/>
<g transform="translate(73.5,747)">
<rect x="0.0" y="0.0" width="60.5" height="1.5" fill="#4196f5"/>
<rect x="60.2" y="0.0" width="37.5" height="1.5" fill="#3f92f5"/>
<rect x="97.4" y="0.0" width="26.3" height="1.5" fill="#337ef5"/>
<rect x="123.4" y="0.0" width="21.8" height="1.5" fill="#286cf5"/>
<rect x="144.9" y="0.0" width="17.3" height="1.5" fill="#1e5af5"/>
<rect x="161.9" y="0.0" width="14.4" height="1.5" fill="#1749f2"/>
<rect x="176.0" y="0.0" width="12.7" height="1.5" fill="#123cef"/>
<rect x="188.4" y="0.0" width="11.2" height="1.5" fill="#0d30ed"/>
<rect x="199.3" y="0.0" width="10.4" height="1.5" fill="#0a28eb"/>
<rect x="0.0" y="1.2" width="60.5" height="3.1" fill="#55c3f5"/>
<rect x="60.2" y="1.2" width="37.5" height="3.1" fill="#53bef5"/>
<rect x="97.4" y="1.2" width="26.3" height="3.1" fill="#49a8f5"/>
<rect x="123.4" y="1.2" width="21.8" height="3.1" fill="#4093f5"/>
<rect x="144.9" y="1.2" width="17.3" height="3.1" fill="#327cf5"/>
<rect x="161.9" y="1.2" width="14.4" height="3.1" fill="#2362f5"/>
<rect x="176.0" y="1.2" width="12.7" height="3.1" fill="#1a50f3"/>
<rect x="188.4" y="1.2" width="11.2" height="3.1" fill="#1441f0"/>
<rect x="199.3" y="1.2" width="10.4" height="3.1" fill="#1036ee"/>
<rect x="0.0" y="4.0" width="60.5" height="4.3" fill="#66e4ec"/>
<rect x="60.2" y="4.0" width="37.5" height="4.3" fill="#64e1ef"/>
<rect x="97.4" y="4.0" width="26.3" height="4.3" fill="#5acef3"/>
<rect x="123.4" y="4.0" width="21.8" height="4.3" fill="#50b9f5"/>
<rect x="144.9" y="4.0" width="17.3" height="4.3" fill="#449ef5"/>
<rect x="161.9" y="4.0" width="14.4" height="4.3" fill="#327cf5"/>
<rect x="176.0" y="4.0" width="12.7" height="4.3" fill="#2261f5"/>
<rect x="188.4" y="4.0" width="11.2" height="4.3" fill="#184bf2"/>
<rect x="199.3" y="4.0" width="10.4" height="4.3" fill="#133def"/>
<rect x="0.0" y="8.0" width="60.5" height="3.9" fill="#4eb4f5"/>
<rect x="60.2" y="8.0" width="37.5" height="3.9" fill="#4cb0f5"/>
<rect x="97.4" y="8.0" width="26.3" height="3.9" fill="#439bf5"/>
<rect x="123.4" y="8.0" width="21.8" height="3.9" fill="#3785f5"/>
<rect x="144.9" y="8.0" width="17.3" height="3.9" fill="#2a6ff5"/>
<rect x="161.9" y="8.0" width="14.4" height="3.9" fill="#1d57f4"/>
<rect x="176.0" y="8.0" width="12.7" height="3.9" fill="#1747f1"/>
<rect x="188.4" y="8.0" width="11.2" height="3.9" fill="#1139ee"/>
<rect x="199.3" y="8.0" width="10.4" height="3.9" fill="#0d2fec"/>
<rect x="0.0" y="11.6" width="60.5" height="3.7" fill="#0d2fec"/>
<rect x="60.2" y="11.6" width="37.5" height="3.7" fill="#0c2cec"/>
<rect x="97.4" y="11.6" width="26.3" height="3.7" fill="#0821e4"/>
<rect x="123.4" y="11.6" width="21.8" height="3.7" fill="#0417da"/>
<rect x="144.9" y="11.6" width="17.3" height="3.7" fill="#010dd0"/>
<rect x="161.9" y="11.6" width="14.4" height="3.7" fill="#0007be"/>
<rect x="176.0" y="11.6" width="12.7" height="3.7" fill="#0004ae"/>
<rect x="188.4" y="11.6" width="11.2" height="3.7" fill="#0002a0"/>
<rect x="199.3" y="11.6" width="10.4" height="3.7" fill="#000096"/>
<rect x="0.0" y="15.0" width="60.5" height="3.3" fill="#5fd7f2"/>
<rect x="60.2" y="15.0" width="37.5" height="3.3" fill="#5dd3f2"/>
<rect x="97.4" y="15.0" width="26.3" height="3.3" fill="#52bdf5"/>
<rect x="123.4" y="15.0" width="21.8" height="3.3" fill="#46a2f5"/>
<rect x="144.9" y="15.0" width="17.3" height="3.3" fill="#3785f5"/>
<rect x="161.9" y="15.0" width="14.4" height="3.3" fill="#2362f5"/>
<rect x="176.0" y="15.0" width="12.7" height="3.3" fill="#184af2"/>
<rect x="188.4" y="15.0" width="11.2" height="3.3" fill="#0f36ee"/>
<rect x="199.3" y="15.0" width="10.4" height="3.3" fill="#0a28eb"/>
<rect x="0.0" y="18.0" width="60.5" height="2.8" fill="#6ef0d7"/>
<rect x="60.2" y="18.0" width="37.5" height="2.8" fill="#6deeda"/>
<rect x="97.4" y="18.0" width="26.3" height="2.8" fill="#66e4eb"/>
<rect x="123.4" y="18.0" width="21.8" height="2.8" fill="#5ed5f2"/>
<rect x="144.9" y="18.0" width="17.3" height="2.8" fill="#55c3f5"/>
<rect x="161.9" y="18.0" width="14.4" height="2.8" fill="#47a4f5"/>
<rect x="176.0" y="18.0" width="12.7" height="2.8" fill="#3b8cf5"/>
<rect x="188.4" y="18.0" width="11.2" height="2.8" fill="#2d73f5"/>
<rect x="199.3" y="18.0" width="10.4" height="2.8" fill="#2363f5"/>
<rect x="0.0" y="20.5" width="60.5" height="8.3" fill="#7af4ba"/>
<rect x="60.2" y="20.5" width="37.5" height="8.3" fill="#78f3bf"/>
<rect x="97.4" y="20.5" width="26.3" height="8.3" fill="#6ef0d7"/>
<rect x="123.4" y="20.5" width="21.8" height="8.3" fill="#68e7e7"/>
<rect x="144.9" y="20.5" width="17.3" height="8.3" fill="#60daf1"/>
<rect x="161.9" y="20.5" width="14.4" height="8.3" fill="#56c4f5"/>
<rect x="176.0" y="20.5" width="12.7" height="8.3" fill="#4badf5"/>
<rect x="188.4" y="20.5" width="11.2" height="8.3" fill="#4196f5"/>
<rect x="199.3" y="20.5" width="10.4" height="8.3" fill="#3785f5"/>
<rect x="0.0" y="28.5" width="60.5" height="6.8" fill="#78f3c0"/>
<rect x="60.2" y="28.5" width="37.5" height="6.8" fill="#76f3c5"/>
<rect x="97.4" y="28.5" width="26.3" height="6.8" fill="#6cecdd"/>
<rect x="123.4" y="28.5" width="21.8" height="6.8" fill="#65e2ee"/>
<rect x="144.9" y="28.5" width="17.3" height="6.8" fill="#5bd0f3"/>
<rect x="161.9" y="28.5" width="14.4" height="6.8" fill="#4eb3f5"/>
<rect x="176.0" y="28.5" width="12.7" height="6.8" fill="#4299f5"/>
<rect x="188.4" y="28.5" width="11.2" height="6.8" fill="#337ef5"/>
<rect x="199.3" y="28.5" width="10.4" height="6.8" fill="#286bf5"/>
<rect x="0.0" y="35.0" width="60.5" height="3.8" fill="#2d74f5"/>
<rect x="60.2" y="35.0" width="37.5" height="3.8" fill="#2a6ff5"/>
<rect x="97.4" y="35.0" width="26.3" height="3.8" fill="#1d57f4"/>
<rect x="123.4" y="35.0" width="21.8" height="3.8" fill="#1645f1"/>
<rect x="144.9" y="35.0" width="17.3" height="3.8" fill="#0e33ed"/>
<rect x="161.9" y="35.0" width="14.4" height="3.8" fill="#0720e3"/>
<rect x="176.0" y="35.0" width="12.7" height="3.8" fill="#0312d5"/>
<rect x="188.4" y="35.0" width="11.2" height="3.8" fill="#0009c6"/>
<rect x="199.3" y="35.0" width="10.4" height="3.8" fill="#0006b7"/>
<rect x="0.0" y="38.5" width="60.5" height="1.8" fill="#6ef0d7"/>
<rect x="60.2" y="38.5" width="37.5" height="1.8" fill="#6deeda"/>
<rect x="97.4" y="38.5" width="26.3" height="1.8" fill="#67e5e9"/>
<rect x="123.4" y="38.5" width="21.8" height="1.8" fill="#60d8f1"/>
<rect x="144.9" y="38.5" width="17.3" height="1.8" fill="#58c8f4"/>
<rect x="161.9" y="38.5" width="14.4" height="1.8" fill="#4caef5"/>
<rect x="176.0" y="38.5" width="12.7" height="1.8" fill="#4299f5"/>
<rect x="188.4" y="38.5" width="11.2" height="1.8" fill="#3683f5"/>
<rect x="199.3" y="38.5" width="10.4" height="1.8" fill="#2d74f5"/>
<rect x="0.0" y="40.0" width="60.5" height="5.0" fill="#8af6a1"/>
<rect x="60.2" y="40.0" width="37.5" height="5.0" fill="#85f6a8"/>
<rect x="97.4" y="40.0" width="26.3" height="5.0" fill="#78f3c1"/>
<rect x="123.4" y="40.0" width="21.8" height="5.0" fill="#70f1d3"/>
<rect x="144.9" y="40.0" width="17.3" height="5.0" fill="#6aeae1"/>
<rect x="161.9" y="40.0" width="14.4" height="5.0" fill="#64e1f0"/>
<rect x="176.0" y="40.0" width="12.7" height="5.0" fill="#5dd3f2"/>
<rect x="188.4" y="40.0" width="11.2" height="5.0" fill="#57c6f4"/>
<rect x="199.3" y="40.0" width="10.4" height="5.0" fill="#52bcf5"/>
<rect x="0.0" y="44.7" width="60.5" height="5.1" fill="#bdf866"/>
<rect x="60.2" y="44.7" width="37.5" height="5.1" fill="#b7f86b"/>
<rect x="97.4" y="44.7" width="26.3" height="5.1" fill="#9df786"/>
<rect x="123.4" y="44.7" width="21.8" height="5.1" fill="#88f6a4"/>
<rect x="144.9" y="44.7" width="17.3" height="5.1" fill="#79f4bd"/>
<rect x="161.9" y="44.7" width="14.4" height="5.1" fill="#70f1d2"/>
<rect x="176.0" y="44.7" width="12.7" height="5.1" fill="#6becde"/>
<rect x="188.4" y="44.7" width="11.2" height="5.1" fill="#67e5e9"/>
<rect x="199.3" y="44.7" width="10.4" height="5.1" fill="#64e1f0"/>
<rect x="0.0" y="49.5" width="60.5" height="5.8" fill="#ebf44f"/>
<rect x="60.2" y="49.5" width="37.5" height="5.8" fill="#e7f550"/>
<rect x="97.4" y="49.5" width="26.3" height="5.8" fill="#d1f856"/>
<rect x="123.4" y="49.5" width="21.8" height="5.8" fill="#b5f86d"/>
<rect x="144.9" y="49.5" width="17.3" height="5.8" fill="#9bf788"/>
<rect x="161.9" y="49.5" width="14.4" height="5.8" fill="#81f5ae"/>
<rect x="176.0" y="49.5" width="12.7" height="5.8" fill="#77f3c2"/>
<rect x="188.4" y="49.5" width="11.2" height="5.8" fill="#70f1d2"/>
<rect x="199.3" y="49.5" width="10.4" height="5.8" fill="#6ceedb"/>
<rect x="0.0" y="55.0" width="60.5" height="2.3" fill="#f1f34f"/>
<rect x="60.2" y="55.0" width="37.5" height="2.3" fill="#edf44f"/>
<rect x="97.4" y="55.0" width="26.3" height="2.3" fill="#daf751"/>
<rect x="123.4" y="55.0" width="21.8" height="2.3" fill="#c1f863"/>
<rect x="144.9" y="55.0" width="17.3" height="2.3" fill="#a6f879"/>
<rect x="161.9" y="55.0" width="14.4" height="2.3" fill="#8df69d"/>
<rect x="176.0" y="55.0" width="12.7" height="2.3" fill="#7cf5b7"/>
<rect x="188.4" y="55.0" width="11.2" height="2.3" fill="#75f2c6"/>
<rect x="199.3" y="55.0" width="10.4" height="2.3" fill="#71f1d1"/>
<rect x="0.0" y="57.0" width="60.5" height="2.3" fill="#f5e04b"/>
<rect x="60.2" y="57.0" width="37.5" height="2.3" fill="#f5e54c"/>
<rect x="97.4" y="57.0" width="26.3" height="2.3" fill="#ebf44f"/>
<rect x="123.4" y="57.0" width="21.8" height="2.3" fill="#d8f852"/>
<rect x="144.9" y="57.0" width="17.3" height="2.3" fill="#bcf867"/>
<rect x="161.9" y="57.0" width="14.4" height="2.3" fill="#9df786"/>
<rect x="176.0" y="57.0" width="12.7" height="2.3" fill="#88f6a4"/>
<rect x="188.4" y="57.0" width="11.2" height="2.3" fill="#7af4bb"/>
<rect x="199.3" y="57.0" width="10.4" height="2.3" fill="#75f2c6"/>
<rect x="0.0" y="59.0" width="60.5" height="3.3" fill="#f5d849"/>
<rect x="60.2" y="59.0" width="37.5" height="3.3" fill="#f5de4a"/>
<rect x="97.4" y="59.0" width="26.3" height="3.3" fill="#f0f34f"/>
<rect x="123.4" y="59.0" width="21.8" height="3.3" fill="#dcf751"/>
<rect x="144.9" y="59.0" width="17.3" height="3.3" fill="#c2f863"/>
<rect x="161.9" y="59.0" width="14.4" height="3.3" fill="#a0f881"/>
<rect x="176.0" y="59.0" width="12.7" height="3.3" fill="#8af6a1"/>
<rect x="188.4" y="59.0" width="11.2" height="3.3" fill="#7af4ba"/>
<rect x="199.3" y="59.0" width="10.4" height="3.3" fill="#76f2c6"/>
<rect x="0.0" y="62.0" width="60.5" height="2.6" fill="#f4c345"/>
<rect x="60.2" y="62.0" width="37.5" height="2.6" fill="#f4c946"/>
<rect x="97.4" y="62.0" width="26.3" height="2.6" fill="#f5e54c"/>
<rect x="123.4" y="62.0" width="21.8" height="2.6" fill="#ebf44f"/>
<rect x="144.9" y="62.0" width="17.3" height="2.6" fill="#d7f852"/>
<rect x="161.9" y="62.0" width="14.4" height="2.6" fill="#b3f86f"/>
<rect x="176.0" y="62.0" width="12.7" height="2.6" fill="#9af78a"/>
<rect x="188.4" y="62.0" width="11.2" height="2.6" fill="#85f6a9"/>
<rect x="199.3" y="62.0" width="10.4" height="2.6" fill="#7bf4b9"/>
<rect x="0.0" y="64.3" width="60.5" height="2.6" fill="#f2a93f"/>
<rect x="60.2" y="64.3" width="37.5" height="2.6" fill="#f2b041"/>
<rect x="97.4" y="64.3" width="26.3" height="2.6" fill="#f5d048"/>
<rect x="123.4" y="64.3" width="21.8" height="2.6" fill="#f5eb4d"/>
<rect x="144.9" y="64.3" width="17.3" height="2.6" fill="#e5f550"/>
<rect x="161.9" y="64.3" width="14.4" height="2.6" fill="#c7f85f"/>
<rect x="176.0" y="64.3" width="12.7" height="2.6" fill="#a9f877"/>
<rect x="188.4" y="64.3" width="11.2" height="2.6" fill="#92f796"/>
<rect x="199.3" y="64.3" width="10.4" height="2.6" fill="#83f5ab"/>
<rect x="0.0" y="66.7" width="60.5" height="2.6" fill="#f4c345"/>
<rect x="60.2" y="66.7" width="37.5" height="2.6" fill="#f4c946"/>
<rect x="97.4" y="66.7" width="26.3" height="2.6" fill="#f5e54c"/>
<rect x="123.4" y="66.7" width="21.8" height="2.6" fill="#ebf44f"/>
<rect x="144.9" y="66.7" width="17.3" height="2.6" fill="#d7f852"/>
<rect x="161.9" y="66.7" width="14.4" height="2.6" fill="#b3f86f"/>
<rect x="176.0" y="66.7" width="12.7" height="2.6" fill="#9af78a"/>
<rect x="188.4" y="66.7" width="11.2" height="2.6" fill="#85f6a9"/>
<rect x="199.3" y="66.7" width="10.4" height="2.6" fill="#7bf4b9"/>
<rect x="0.0" y="69.0" width="60.5" height="3.3" fill="#ef8135"/>
<rect x="60.2" y="69.0" width="37.5" height="3.3" fill="#f08938"/>
<rect x="97.4" y="69.0" width="26.3" height="3.3" fill="#f2b242"/>
<rect x="123.4" y="69.0" width="21.8" height="3.3" fill="#f5d248"/>
<rect x="144.9" y="69.0" width="17.3" height="3.3" fill="#f5f04e"/>
<rect x="161.9" y="69.0" width="14.4" height="3.3" fill="#dcf751"/>
<rect x="176.0" y="69.0" width="12.7" height="3.3" fill="#bef865"/>
<rect x="188.4" y="69.0" width="11.2" height="3.3" fill="#a1f880"/>
<rect x="199.3" y="69.0" width="10.4" height="3.3" fill="#90f698"/>
<rect x="0.0" y="72.0" width="60.5" height="3.3" fill="#f19d3d"/>
<rect x="60.2" y="72.0" width="37.5" height="3.3" fill="#f2a63f"/>
<rect x="97.4" y="72.0" width="26.3" height="3.3" fill="#f4c846"/>
<rect x="123.4" y="72.0" width="21.8" height="3.3" fill="#f5e54c"/>
<rect x="144.9" y="72.0" width="17.3" height="3.3" fill="#e9f450"/>
<rect x="161.9" y="72.0" width="14.4" height="3.3" fill="#cbf85b"/>
<rect x="176.0" y="72.0" width="12.7" height="3.3" fill="#adf874"/>
<rect x="188.4" y="72.0" width="11.2" height="3.3" fill="#94f793"/>
<rect x="199.3" y="72.0" width="10.4" height="3.3" fill="#84f6a9"/>
<rect x="0.0" y="75.0" width="60.5" height="3.3" fill="#eb612d"/>
<rect x="60.2" y="75.0" width="37.5" height="3.3" fill="#ec6a30"/>
<rect x="97.4" y="75.0" width="26.3" height="3.3" fill="#f1953b"/>
<rect x="123.4" y="75.0" width="21.8" height="3.3" fill="#f3bb43"/>
<rect x="144.9" y="75.0" width="17.3" height="3.3" fill="#f5dd4a"/>
<rect x="161.9" y="75.0" width="14.4" height="3.3" fill="#e9f44f"/>
<rect x="176.0" y="75.0" width="12.7" height="3.3" fill="#d2f855"/>
<rect x="188.4" y="75.0" width="11.2" height="3.3" fill="#b2f870"/>
<rect x="199.3" y="75.0" width="10.4" height="3.3" fill="#9ef785"/>
<rect x="0.0" y="78.0" width="60.5" height="3.3" fill="#ef7d35"/>
<rect x="60.2" y="78.0" width="37.5" height="3.3" fill="#f08637"/>
<rect x="97.4" y="78.0" width="26.3" height="3.3" fill="#f2af41"/>
<rect x="123.4" y="78.0" width="21.8" height="3.3" fill="#f5d048"/>
<rect x="144.9" y="78.0" width="17.3" height="3.3" fill="#f5ee4d"/>
<rect x="161.9" y="78.0" width="14.4" height="3.3" fill="#ddf751"/>
<rect x="176.0" y="78.0" width="12.7" height="3.3" fill="#c0f864"/>
<rect x="188.4" y="78.0" width="11.2" height="3.3" fill="#a2f87e"/>
<rect x="199.3" y="78.0" width="10.4" height="3.3" fill="#92f796"/>
<rect x="0.0" y="81.0" width="60.5" height="3.3" fill="#e64626"/>
<rect x="60.2" y="81.0" width="37.5" height="3.3" fill="#e85129"/>
<rect x="97.4" y="81.0" width="26.3" height="3.3" fill="#ef7f35"/>
<rect x="123.4" y="81.0" width="21.8" height="3.3" fill="#f2a83f"/>
<rect x="144.9" y="81.0" width="17.3" height="3.3" fill="#f4cc47"/>
<rect x="161.9" y="81.0" width="14.4" height="3.3" fill="#f5f14e"/>
<rect x="176.0" y="81.0" width="12.7" height="3.3" fill="#dff651"/>
<rect x="188.4" y="81.0" width="11.2" height="3.3" fill="#c2f862"/>
<rect x="199.3" y="81.0" width="10.4" height="3.3" fill="#acf874"/>
<rect x="0.0" y="84.0" width="60.5" height="3.3" fill="#ec652f"/>
<rect x="60.2" y="84.0" width="37.5" height="3.3" fill="#ed6e31"/>
<rect x="97.4" y="84.0" width="26.3" height="3.3" fill="#f1993b"/>
<rect x="123.4" y="84.0" width="21.8" height="3.3" fill="#f3bd44"/>
<rect x="144.9" y="84.0" width="17.3" height="3.3" fill="#f5de4a"/>
<rect x="161.9" y="84.0" width="14.4" height="3.3" fill="#e9f450"/>
<rect x="176.0" y="84.0" width="12.7" height="3.3" fill="#d2f855"/>
<rect x="188.4" y="84.0" width="11.2" height="3.3" fill="#b3f86f"/>
<rect x="199.3" y="84.0" width="10.4" height="3.3" fill="#9ff883"/>
<rect x="0.0" y="87.0" width="60.5" height="3.3" fill="#dc3420"/>
<rect x="60.2" y="87.0" width="37.5" height="3.3" fill="#e13922"/>
<rect x="97.4" y="87.0" width="26.3" height="3.3" fill="#ec682f"/>
<rect x="123.4" y="87.0" width="21.8" height="3.3" fill="#f1923a"/>
<rect x="144.9" y="87.0" width="17.3" height="3.3" fill="#f3bb43"/>
<rect x="161.9" y="87.0" width="14.4" height="3.3" fill="#f5e34b"/>
<rect x="176.0" y="87.0" width="12.7" height="3.3" fill="#eaf44f"/>
<rect x="188.4" y="87.0" width="11.2" height="3.3" fill="#d3f854"/>
<rect x="199.3" y="87.0" width="10.4" height="3.3" fill="#bdf867"/>
<rect x="0.0" y="90.0" width="60.5" height="3.3" fill="#e74c28"/>
<rect x="60.2" y="90.0" width="37.5" height="3.3" fill="#e9562a"/>
<rect x="97.4" y="90.0" width="26.3" height="3.3" fill="#ef8236"/>
<rect x="123.4" y="90.0" width="21.8" height="3.3" fill="#f2aa40"/>
<rect x="144.9" y="90.0" width="17.3" height="3.3" fill="#f5cd47"/>
<rect x="161.9" y="90.0" width="14.4" height="3.3" fill="#f5f24e"/>
<rect x="176.0" y="90.0" width="12.7" height="3.3" fill="#dff651"/>
<rect x="188.4" y="90.0" width="11.2" height="3.3" fill="#c4f861"/>
<rect x="199.3" y="90.0" width="10.4" height="3.3" fill="#aef873"/>
<rect x="0.0" y="93.0" width="60.5" height="2.8" fill="#c5261a"/>
<rect x="60.2" y="93.0" width="37.5" height="2.8" fill="#d42c1d"/>
<rect x="97.4" y="93.0" width="26.3" height="2.8" fill="#e9542a"/>
<rect x="123.4" y="93.0" width="21.8" height="2.8" fill="#ef8336"/>
<rect x="144.9" y="93.0" width="17.3" height="2.8" fill="#f2b041"/>
<rect x="161.9" y="93.0" width="14.4" height="2.8" fill="#f5dc4a"/>
<rect x="176.0" y="93.0" width="12.7" height="2.8" fill="#edf44f"/>
<rect x="188.4" y="93.0" width="11.2" height="2.8" fill="#d5f852"/>
<rect x="199.3" y="93.0" width="10.4" height="2.8" fill="#bdf867"/>
<rect x="0.0" y="95.5" width="60.5" height="2.8" fill="#df3721"/>
<rect x="60.2" y="95.5" width="37.5" height="2.8" fill="#e43d23"/>
<rect x="97.4" y="95.5" width="26.3" height="2.8" fill="#ed6f31"/>
<rect x="123.4" y="95.5" width="21.8" height="2.8" fill="#f19a3c"/>
<rect x="144.9" y="95.5" width="17.3" height="2.8" fill="#f4c345"/>
<rect x="161.9" y="95.5" width="14.4" height="2.8" fill="#f5ec4d"/>
<rect x="176.0" y="95.5" width="12.7" height="2.8" fill="#e2f650"/>
<rect x="188.4" y="95.5" width="11.2" height="2.8" fill="#c6f85f"/>
<rect x="199.3" y="95.5" width="10.4" height="2.8" fill="#aef873"/>
<rect x="0.0" y="98.0" width="60.5" height="2.8" fill="#d72f1e"/>
<rect x="60.2" y="98.0" width="37.5" height="2.8" fill="#dd3520"/>
<rect x="97.4" y="98.0" width="26.3" height="2.8" fill="#eb622e"/>
<rect x="123.4" y="98.0" width="21.8" height="2.8" fill="#f08d39"/>
<rect x="144.9" y="98.0" width="17.3" height="2.8" fill="#f3b743"/>
<rect x="161.9" y="98.0" width="14.4" height="2.8" fill="#f5e04b"/>
<rect x="176.0" y="98.0" width="12.7" height="2.8" fill="#ebf44f"/>
<rect x="188.4" y="98.0" width="11.2" height="2.8" fill="#d4f854"/>
<rect x="199.3" y="98.0" width="10.4" height="2.8" fill="#bdf867"/>
<rect x="0.0" y="100.5" width="60.5" height="2.8" fill="#e54325"/>
<rect x="60.2" y="100.5" width="37.5" height="2.8" fill="#e74d28"/>
<rect x="97.4" y="100.5" width="26.3" height="2.8" fill="#ef7c34"/>
<rect x="123.4" y="100.5" width="21.8" height="2.8" fill="#f1a53e"/>
<rect x="144.9" y="100.5" width="17.3" height="2.8" fill="#f4ca46"/>
<rect x="161.9" y="100.5" width="14.4" height="2.8" fill="#f5f04e"/>
<rect x="176.0" y="100.5" width="12.7" height="2.8" fill="#e0f651"/>
<rect x="188.4" y="100.5" width="11.2" height="2.8" fill="#c4f860"/>
<rect x="199.3" y="100.5" width="10.4" height="2.8" fill="#aef873"/>
<rect x="0.0" y="103.0" width="60.5" height="3.2" fill="#a31d15"/>
<rect x="60.2" y="103.0" width="37.5" height="3.2" fill="#bb2318"/>
<rect x="97.4" y="103.0" width="26.3" height="3.2" fill="#e64626"/>
<rect x="123.4" y="103.0" width="21.8" height="3.2" fill="#ee7833"/>
<rect x="144.9" y="103.0" width="17.3" height="3.2" fill="#f2a83f"/>
<rect x="161.9" y="103.0" width="14.4" height="3.2" fill="#f5d849"/>
<rect x="176.0" y="103.0" width="12.7" height="3.2" fill="#eff34f"/>
<rect x="188.4" y="103.0" width="11.2" height="3.2" fill="#d6f852"/>
<rect x="199.3" y="103.0" width="10.4" height="3.2" fill="#bdf867"/>
<rect x="0.0" y="105.9" width="60.5" height="3.2" fill="#d62e1d"/>
<rect x="60.2" y="105.9" width="37.5" height="3.2" fill="#dc3420"/>
<rect x="97.4" y="105.9" width="26.3" height="3.2" fill="#eb622e"/>
<rect x="123.4" y="105.9" width="21.8" height="3.2" fill="#f09039"/>
<rect x="144.9" y="105.9" width="17.3" height="3.2" fill="#f3bc44"/>
<rect x="161.9" y="105.9" width="14.4" height="3.2" fill="#f5e74c"/>
<rect x="176.0" y="105.9" width="12.7" height="3.2" fill="#e4f550"/>
<rect x="188.4" y="105.9" width="11.2" height="3.2" fill="#c7f85e"/>
<rect x="199.3" y="105.9" width="10.4" height="3.2" fill="#aef873"/>
<rect x="0.0" y="108.7" width="60.5" height="2.9" fill="#d72f1e"/>
<rect x="60.2" y="108.7" width="37.5" height="2.9" fill="#dd3520"/>
<rect x="97.4" y="108.7" width="26.3" height="2.9" fill="#ec642e"/>
<rect x="123.4" y="108.7" width="21.8" height="2.9" fill="#f09039"/>
<rect x="144.9" y="108.7" width="17.3" height="2.9" fill="#f3bb43"/>
<rect x="161.9" y="108.7" width="14.4" height="2.9" fill="#f5e54c"/>
<rect x="176.0" y="108.7" width="12.7" height="2.9" fill="#e7f550"/>
<rect x="188.4" y="108.7" width="11.2" height="2.9" fill="#cdf85a"/>
<rect x="199.3" y="108.7" width="10.4" height="2.9" fill="#b5f86d"/>
<rect x="0.0" y="111.4" width="60.5" height="2.9" fill="#e54325"/>
<rect x="60.2" y="111.4" width="37.5" height="2.9" fill="#e84e28"/>
<rect x="97.4" y="111.4" width="26.3" height="2.9" fill="#ef7e35"/>
<rect x="123.4" y="111.4" width="21.8" height="2.9" fill="#f2a83f"/>
<rect x="144.9" y="111.4" width="17.3" height="2.9" fill="#f5cd47"/>
<rect x="161.9" y="111.4" width="14.4" height="2.9" fill="#f3f24e"/>
<rect x="176.0" y="111.4" width="12.7" height="2.9" fill="#dcf751"/>
<rect x="188.4" y="111.4" width="11.2" height="2.9" fill="#bdf867"/>
<rect x="199.3" y="111.4" width="10.4" height="2.9" fill="#a6f879"/>
<rect x="0.0" y="114.0" width="60.5" height="8.3" fill="#991a13"/>
<rect x="60.2" y="114.0" width="37.5" height="8.3" fill="#b02117"/>
<rect x="97.4" y="114.0" width="26.3" height="8.3" fill="#e64526"/>
<rect x="123.4" y="114.0" width="21.8" height="8.3" fill="#ee7a34"/>
<rect x="144.9" y="114.0" width="17.3" height="8.3" fill="#f2ad41"/>
<rect x="161.9" y="114.0" width="14.4" height="8.3" fill="#f5df4a"/>
<rect x="176.0" y="114.0" width="12.7" height="8.3" fill="#e8f450"/>
<rect x="188.4" y="114.0" width="11.2" height="8.3" fill="#c9f85d"/>
<rect x="199.3" y="114.0" width="10.4" height="8.3" fill="#adf873"/>
<rect x="0.0" y="122.0" width="60.5" height="10.3" fill="#d22a1c"/>
<rect x="60.2" y="122.0" width="37.5" height="10.3" fill="#d8301e"/>
<rect x="97.4" y="122.0" width="26.3" height="10.3" fill="#eb5d2c"/>
<rect x="123.4" y="122.0" width="21.8" height="10.3" fill="#f08c38"/>
<rect x="144.9" y="122.0" width="17.3" height="10.3" fill="#f3ba43"/>
<rect x="161.9" y="122.0" width="14.4" height="10.3" fill="#f5e64c"/>
<rect x="176.0" y="122.0" width="12.7" height="10.3" fill="#e4f550"/>
<rect x="188.4" y="122.0" width="11.2" height="10.3" fill="#c7f85f"/>
<rect x="199.3" y="122.0" width="10.4" height="10.3" fill="#adf873"/>
<rect x="0.0" y="132.0" width="60.5" height="6.3" fill="#8c1611"/>
<rect x="60.2" y="132.0" width="37.5" height="6.3" fill="#a01c14"/>
<rect x="97.4" y="132.0" width="26.3" height="6.3" fill="#e43e24"/>
<rect x="123.4" y="132.0" width="21.8" height="6.3" fill="#ee7532"/>
<rect x="144.9" y="132.0" width="17.3" height="6.3" fill="#f2a93f"/>
<rect x="161.9" y="132.0" width="14.4" height="6.3" fill="#f5dd4a"/>
<rect x="176.0" y="132.0" width="12.7" height="6.3" fill="#e9f450"/>
<rect x="188.4" y="132.0" width="11.2" height="6.3" fill="#caf85c"/>
<rect x="199.3" y="132.0" width="10.4" height="6.3" fill="#adf873"/>
<rect x="0.0" y="138.0" width="60.5" height="8.3" fill="#78100e"/>
<rect x="60.2" y="138.0" width="37.5" height="8.3" fill="#8d1611"/>
<rect x="97.4" y="138.0" width="26.3" height="8.3" fill="#e03721"/>
<rect x="123.4" y="138.0" width="21.8" height="8.3" fill="#ed6d30"/>
<rect x="144.9" y="138.0" width="17.3" height="8.3" fill="#f1a33e"/>
<rect x="161.9" y="138.0" width="14.4" height="8.3" fill="#f5d949"/>
<rect x="176.0" y="138.0" width="12.7" height="8.3" fill="#ebf44f"/>
<rect x="188.4" y="138.0" width="11.2" height="8.3" fill="#cbf85b"/>
<rect x="199.3" y="138.0" width="10.4" height="8.3" fill="#adf873"/>
<rect x="0.0" y="146.0" width="60.5" height="10.3" fill="#991a13"/>
<rect x="60.2" y="146.0" width="37.5" height="10.3" fill="#b12117"/>
<rect x="97.4" y="146.0" width="26.3" height="10.3" fill="#e64626"/>
<rect x="123.4" y="146.0" width="21.8" height="10.3" fill="#ef7d34"/>
<rect x="144.9" y="146.0" width="17.3" height="10.3" fill="#f2b141"/>
<rect x="161.9" y="146.0" width="14.4" height="10.3" fill="#f5e34b"/>
<rect x="176.0" y="146.0" width="12.7" height="10.3" fill="#e4f550"/>
<rect x="188.4" y="146.0" width="11.2" height="10.3" fill="#c1f863"/>
<rect x="199.3" y="146.0" width="10.4" height="10.3" fill="#a5f87a"/>
<rect x="0.0" y="156.0" width="60.5" height="14.3" fill="#e03721"/>
<rect x="60.2" y="156.0" width="37.5" height="14.3" fill="#e53f24"/>
<rect x="97.4" y="156.0" width="26.3" height="14.3" fill="#ee7432"/>
<rect x="123.4" y="156.0" width="21.8" height="14.3" fill="#f1a13e"/>
<rect x="144.9" y="156.0" width="17.3" height="14.3" fill="#f4cb47"/>
<rect x="161.9" y="156.0" width="14.4" height="14.3" fill="#f3f24e"/>
<rect x="176.0" y="156.0" width="12.7" height="14.3" fill="#d9f752"/>
<rect x="188.4" y="156.0" width="11.2" height="14.3" fill="#b6f86c"/>
<rect x="199.3" y="156.0" width="10.4" height="14.3" fill="#9ef884"/>
<rect x="0.0" y="170.0" width="60.5" height="23.3" fill="#e43c23"/>
<rect x="60.2" y="170.0" width="37.5" height="23.3" fill="#e64826"/>
<rect x="97.4" y="170.0" width="26.3" height="23.3" fill="#ef7c34"/>
<rect x="123.4" y="170.0" width="21.8" height="23.3" fill="#f2a940"/>
<rect x="144.9" y="170.0" width="17.3" height="23.3" fill="#f5d248"/>
<rect x="161.9" y="170.0" width="14.4" height="23.3" fill="#edf34f"/>
<rect x="176.0" y="170.0" width="12.7" height="23.3" fill="#d3f855"/>
<rect x="188.4" y="170.0" width="11.2" height="23.3" fill="#adf873"/>
<rect x="199.3" y="170.0" width="10.4" height="23.3" fill="#98f78d"/>
<rect x="0" y="29" width="209.4" height="1" fill="#b0b0b0" opacity="0.6"/>
<rect x="0" y="108.5" width="209.4" height="1" fill="#b0b0b0" opacity="0.6"/>
<rect x="0" y="187.5" width="209.4" height="1" fill="#b0b0b0" opacity="0.6"/>
<rect x="71.6" y="0" width="1" height="193" fill="#b0b0b0" opacity="0.6"/>
<rect x="-0.5" y="0" width="1" height="193" fill="#333"/>
<rect x="0" y="192.5" width="209.4" height="1" fill="#333"/>
</g>
<rect x="174.3" y="367" width="6" height="99" fill="#fff"/><polygon points="168.3,465 186.3,465 177.3,482" fill="#fff"/>
<rect x="305.0" y="312" width="6" height="88" fill="#fff"/><polygon points="299.0,399 317.0,399 308,416" fill="#fff"/>
<rect x="438.0" y="233" width="6" height="100" fill="#fff"/><polygon points="432.0,332 450.0,332 441,349" fill="#fff"/>
<rect x="173.0" y="664" width="6" height="97" fill="#fff"/><polygon points="167.0,760 185.0,760 176,777" fill="#fff"/>
<rect x="305.0" y="596" width="6" height="97" fill="#fff"/><polygon points="299.0,692 317.0,692 308,709" fill="#fff"/>
<rect x="439.0" y="535" width="6" height="97" fill="#fff"/><polygon points="433.0,631 451.0,631 442,648" fill="#fff"/>
<rect x="27" y="181" width="172" height="6" fill="#fff"/>
<polygon points="198,175 198,193 216,184" fill="#fff"/>
<g transform="translate(27,184) rotate(-22.738)"><rect x="0" y="-3" width="390.8" height="6" fill="#fff"/><polygon points="389.8,-9 389.8,9 408.8,0" fill="#fff"/></g>
<g fill="#fff">
<text x="565" y="77.6" font-size="27" class="st">SKA-Low Mock</text>
<text x="565" y="113.6" font-size="27" class="st" textLength="266" lengthAdjust="spacing">Reionisation history</text>
<text x="569" y="394.5" font-size="27" class="st" textLength="252" lengthAdjust="spacing">21-cm subvolumes</text>
<text x="569" y="429" font-size="27" class="st">at</text>
<text x="569" y="729.5" font-size="27" class="st" textLength="232" lengthAdjust="spacing">2D power spectra</text>
<rect x="565.70" y="130.30" width="17.30" height="1.50" fill="#fff"/>
<text transform="translate(566.30,148.00) scale(1.146,1)" x="0.35" y="0" font-size="28.8" class="mt">x</text>
<text transform="translate(583.00,155.00) scale(0.835,1)" x="0.14" y="0" font-size="19.2" class="mt">H</text>
<text transform="translate(596.50,155.00) scale(1.280,1)" x="0.19" y="0" font-size="19.2" class="mt">I</text>
<text transform="translate(612.90,150.00) scale(0.992,1)" x="-1.40" y="0" font-size="31.8" class="mtr">(</text>
<text transform="translate(622.60,148.00) scale(1.128,1)" x="0.81" y="0" font-size="28.5" class="mt">z</text>
<text transform="translate(638.00,150.00) scale(1.077,1)" x="-1.02" y="0" font-size="31.8" class="mtr">)</text>
<text transform="translate(91.00,217.70) scale(1.129,1)" x="-1.12" y="0" font-size="29.8" class="mt">θ</text>
<text transform="translate(108.30,216.40) scale(0.900,1)" x="0.64" y="0" font-size="30" class="mt">,</text>
<text transform="translate(119.90,218.00) scale(1.166,1)" x="-0.42" y="0" font-size="31" class="mt">k</text>
<rect x="138.00" y="221.90" width="13.80" height="1.90" fill="#fff"/><rect x="143.40" y="209.70" width="2.70" height="14.10" fill="#fff"/>
<text transform="translate(607.80,429.00) scale(1.252,1)" x="0.88" y="0" font-size="30.9" class="mt">z</text>
<text transform="translate(624.70,435.30) scale(1.432,1)" x="-1.63" y="0" font-size="20.3" class="mtb">1</text>
<text transform="translate(637.20,428.10) scale(0.951,1)" x="0.63" y="0" font-size="29.5" class="mt">,</text>
<text transform="translate(647.80,429.00) scale(1.260,1)" x="0.88" y="0" font-size="30.9" class="mt">z</text>
<text transform="translate(663.90,435.30) scale(1.270,1)" x="-0.85" y="0" font-size="20.3" class="mtb">2</text>
<text transform="translate(676.90,428.10) scale(0.861,1)" x="0.63" y="0" font-size="29.5" class="mt">,</text>
<text transform="translate(687.90,429.00) scale(1.182,1)" x="0.88" y="0" font-size="30.9" class="mt">z</text>
<text transform="translate(703.10,435.30) scale(1.323,1)" x="-0.76" y="0" font-size="20.3" class="mtb">3</text>
<text transform="translate(570.30,766.10) scale(0.943,1)" x="0.02" y="0" font-size="32.1" class="mt">P</text>
<text transform="translate(590.80,771.90) scale(1.324,1)" x="-0.93" y="0" font-size="22.2" class="mtb">2</text>
<text transform="translate(603.00,771.90) scale(0.982,1)" x="0.16" y="0" font-size="22.2" class="mt">D</text>
<text transform="translate(621.70,766.00) scale(1.137,1)" x="-1.38" y="0" font-size="31.5" class="mtr">(</text>
<text transform="translate(631.80,766.10) scale(1.166,1)" x="-0.41" y="0" font-size="30.3" class="mt">k</text>
<rect x="650.80" y="756.60" width="1.80" height="17.00" fill="#fff"/><rect x="655.90" y="756.60" width="1.80" height="17.00" fill="#fff"/>
<text transform="translate(661.00,765.40) scale(0.917,1)" x="0.64" y="0" font-size="30" class="mt">,</text>
<text transform="translate(672.60,766.00) scale(1.179,1)" x="-0.41" y="0" font-size="30.3" class="mt">k</text>
<rect x="690.40" y="770.30" width="13.50" height="1.70" fill="#fff"/><rect x="696.60" y="757.90" width="1.80" height="14.10" fill="#fff"/>
<text transform="translate(706.20,766.00) scale(1.248,1)" x="-1.02" y="0" font-size="31.5" class="mtr">)</text>
<g transform="translate(151.4,111.1) rotate(-22.5)">
<text transform="translate(0.00,0.00) scale(0.991,1)" x="0.85" y="0" font-size="30" class="mt">z</text>
<text transform="translate(15.50,0.40) scale(0.794,1)" x="0.64" y="0" font-size="30" class="mt">,</text>
<text transform="translate(26.00,0.00) scale(1.098,1)" x="-0.40" y="0" font-size="29.5" class="mt">k</text>
<rect x="45.20" y="-7.70" width="2.00" height="16.40" fill="#fff"/><rect x="50.20" y="-7.70" width="2.00" height="16.40" fill="#fff"/>
</g>
</g>
</svg>
</body></html>
